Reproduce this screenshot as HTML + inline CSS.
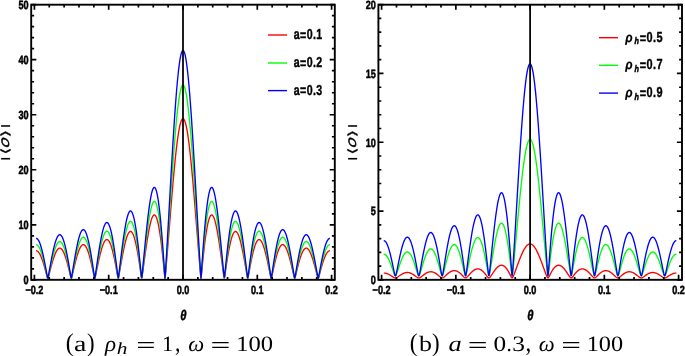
<!DOCTYPE html>
<html lang="en"><head><meta charset="utf-8"><title>Figure</title>
<style>
html,body{margin:0;padding:0;background:#fff;}
svg{display:block;will-change:transform;}
text{font-family:"Liberation Sans","DejaVu Sans",sans-serif;fill:#000;text-rendering:geometricPrecision;}
.tk{font-size:12px;font-weight:bold;stroke:#000;stroke-width:0.5px;}
.lg{font-size:14.5px;font-weight:bold;stroke:#000;stroke-width:0.4px;letter-spacing:0.5px;}
.th{font-size:14px;font-weight:bold;font-style:italic;stroke:#000;stroke-width:0.5px;}
.yl{font-size:13px;font-weight:bold;}
.it{font-style:italic;}
.cap{font-family:"Liberation Serif","DejaVu Serif",serif;font-size:22px;}
.ci{font-style:italic;}
</style></head><body>
<svg width="685" height="356" viewBox="0 0 685 356">
<rect width="685" height="356" fill="#fff"/>
<path d="M36.09 250.77 L36.46 250.78 L36.83 250.85 L37.19 251.00 L37.56 251.22 L37.93 251.51 L38.29 251.86 L38.66 252.28 L39.03 252.78 L39.40 253.33 L39.76 253.95 L40.13 254.64 L40.50 255.39 L40.87 256.20 L41.23 257.06 L41.60 257.99 L41.97 258.97 L42.33 260.00 L42.70 261.08 L43.07 262.21 L43.44 263.38 L43.80 264.60 L44.17 265.85 L44.54 267.14 L44.91 268.47 L45.27 269.82 L45.64 271.19 L46.01 272.59 L46.37 273.99 L46.74 275.39 L47.11 276.76 L47.48 277.99 L47.84 278.49 L48.21 277.67 L48.58 276.37 L48.95 274.96 L49.31 273.53 L49.68 272.09 L50.05 270.65 L50.41 269.23 L50.78 267.83 L51.15 266.45 L51.52 265.10 L51.88 263.78 L52.25 262.49 L52.62 261.24 L52.99 260.03 L53.35 258.86 L53.72 257.74 L54.09 256.67 L54.45 255.66 L54.82 254.69 L55.19 253.79 L55.56 252.94 L55.92 252.16 L56.29 251.44 L56.66 250.79 L57.03 250.21 L57.39 249.69 L57.76 249.25 L58.13 248.88 L58.49 248.58 L58.86 248.35 L59.23 248.20 L59.60 248.13 L59.96 248.13 L60.33 248.21 L60.70 248.37 L61.07 248.60 L61.43 248.91 L61.80 249.29 L62.17 249.75 L62.53 250.28 L62.90 250.88 L63.27 251.56 L63.64 252.30 L64.00 253.12 L64.37 254.00 L64.74 254.94 L65.11 255.95 L65.47 257.02 L65.84 258.15 L66.21 259.33 L66.57 260.56 L66.94 261.85 L67.31 263.18 L67.68 264.55 L68.04 265.96 L68.41 267.41 L68.78 268.90 L69.15 270.41 L69.51 271.94 L69.88 273.49 L70.25 275.04 L70.61 276.56 L70.98 277.93 L71.35 278.48 L71.72 277.49 L72.08 276.02 L72.45 274.46 L72.82 272.87 L73.19 271.28 L73.55 269.69 L73.92 268.12 L74.29 266.57 L74.65 265.04 L75.02 263.55 L75.39 262.08 L75.76 260.66 L76.12 259.27 L76.49 257.93 L76.86 256.63 L77.23 255.39 L77.59 254.20 L77.96 253.07 L78.33 251.99 L78.69 250.99 L79.06 250.04 L79.43 249.17 L79.80 248.36 L80.16 247.63 L80.53 246.98 L80.90 246.40 L81.27 245.90 L81.63 245.48 L82.00 245.14 L82.37 244.88 L82.73 244.70 L83.10 244.61 L83.47 244.61 L83.84 244.69 L84.20 244.85 L84.57 245.10 L84.94 245.43 L85.31 245.85 L85.67 246.35 L86.04 246.93 L86.41 247.60 L86.77 248.34 L87.14 249.16 L87.51 250.06 L87.88 251.04 L88.24 252.09 L88.61 253.21 L88.98 254.39 L89.35 255.65 L89.71 256.96 L90.08 258.34 L90.45 259.77 L90.81 261.26 L91.18 262.79 L91.55 264.37 L91.92 266.00 L92.28 267.66 L92.65 269.35 L93.02 271.07 L93.39 272.82 L93.75 274.56 L94.12 276.29 L94.49 277.87 L94.85 278.45 L95.22 277.22 L95.59 275.52 L95.96 273.74 L96.32 271.93 L96.69 270.13 L97.06 268.33 L97.43 266.55 L97.79 264.79 L98.16 263.06 L98.53 261.36 L98.89 259.70 L99.26 258.07 L99.63 256.49 L100.00 254.96 L100.36 253.49 L100.73 252.07 L101.10 250.71 L101.47 249.41 L101.83 248.18 L102.20 247.02 L102.57 245.94 L102.93 244.93 L103.30 244.00 L103.67 243.15 L104.04 242.39 L104.40 241.71 L104.77 241.13 L105.14 240.63 L105.51 240.23 L105.87 239.92 L106.24 239.70 L106.61 239.58 L106.97 239.56 L107.34 239.63 L107.71 239.80 L108.08 240.07 L108.44 240.43 L108.81 240.89 L109.18 241.45 L109.55 242.10 L109.91 242.85 L110.28 243.69 L110.65 244.62 L111.01 245.64 L111.38 246.75 L111.75 247.94 L112.12 249.22 L112.48 250.58 L112.85 252.01 L113.22 253.52 L113.59 255.10 L113.95 256.75 L114.32 258.46 L114.69 260.23 L115.05 262.06 L115.42 263.94 L115.79 265.86 L116.16 267.83 L116.52 269.83 L116.89 271.86 L117.26 273.91 L117.63 275.93 L117.99 277.81 L118.36 278.37 L118.73 276.73 L119.09 274.69 L119.46 272.58 L119.83 270.45 L120.20 268.32 L120.56 266.20 L120.93 264.10 L121.30 262.02 L121.67 259.97 L122.03 257.95 L122.40 255.98 L122.77 254.05 L123.13 252.16 L123.50 250.34 L123.87 248.57 L124.24 246.87 L124.60 245.23 L124.97 243.67 L125.34 242.19 L125.71 240.78 L126.07 239.47 L126.44 238.24 L126.81 237.10 L127.17 236.06 L127.54 235.12 L127.91 234.28 L128.28 233.54 L128.64 232.91 L129.01 232.39 L129.38 231.98 L129.75 231.69 L130.11 231.50 L130.48 231.43 L130.85 231.48 L131.21 231.65 L131.58 231.93 L131.95 232.34 L132.32 232.85 L132.68 233.49 L133.05 234.24 L133.42 235.11 L133.79 236.09 L134.15 237.19 L134.52 238.40 L134.89 239.71 L135.25 241.13 L135.62 242.66 L135.99 244.29 L136.36 246.02 L136.72 247.84 L137.09 249.75 L137.46 251.75 L137.83 253.84 L138.19 256.00 L138.56 258.24 L138.93 260.55 L139.29 262.92 L139.66 265.36 L140.03 267.84 L140.40 270.37 L140.76 272.92 L141.13 275.48 L141.50 277.85 L141.87 278.02 L142.23 275.66 L142.60 273.02 L142.97 270.32 L143.33 267.60 L143.70 264.88 L144.07 262.17 L144.44 259.47 L144.80 256.79 L145.17 254.14 L145.54 251.53 L145.91 248.95 L146.27 246.43 L146.64 243.96 L147.01 241.56 L147.37 239.22 L147.74 236.95 L148.11 234.77 L148.48 232.67 L148.84 230.66 L149.21 228.75 L149.58 226.94 L149.95 225.24 L150.31 223.65 L150.68 222.18 L151.05 220.84 L151.41 219.62 L151.78 218.53 L152.15 217.58 L152.52 216.76 L152.88 216.09 L153.25 215.57 L153.62 215.20 L153.99 214.97 L154.35 214.90 L154.72 214.99 L155.09 215.24 L155.45 215.64 L155.82 216.21 L156.19 216.94 L156.56 217.83 L156.92 218.88 L157.29 220.10 L157.66 221.48 L158.03 223.02 L158.39 224.72 L158.76 226.58 L159.13 228.60 L159.49 230.77 L159.86 233.10 L160.23 235.57 L160.60 238.20 L160.96 240.96 L161.33 243.87 L161.70 246.92 L162.07 250.10 L162.43 253.40 L162.80 256.83 L163.17 260.37 L163.53 264.03 L163.90 267.78 L164.27 271.63 L164.64 275.50 L165.00 278.51 L165.37 275.50 L165.74 271.37 L166.11 267.11 L166.47 262.77 L166.84 258.37 L167.21 253.91 L167.57 249.41 L167.94 244.88 L168.31 240.31 L168.68 235.73 L169.04 231.13 L169.41 226.53 L169.78 221.94 L170.15 217.35 L170.51 212.79 L170.88 208.25 L171.25 203.75 L171.61 199.29 L171.98 194.88 L172.35 190.53 L172.72 186.25 L173.08 182.04 L173.45 177.91 L173.82 173.87 L174.19 169.93 L174.55 166.08 L174.92 162.35 L175.29 158.73 L175.65 155.24 L176.02 151.87 L176.39 148.64 L176.76 145.54 L177.12 142.60 L177.49 139.80 L177.86 137.16 L178.23 134.68 L178.59 132.37 L178.96 130.23 L179.33 128.26 L179.69 126.46 L180.06 124.85 L180.43 123.42 L180.80 122.17 L181.16 121.11 L181.53 120.25 L181.90 119.57 L182.27 119.08 L182.63 118.79 L183.00 118.70 L183.37 118.79 L183.73 119.08 L184.10 119.57 L184.47 120.25 L184.84 121.11 L185.20 122.17 L185.57 123.42 L185.94 124.85 L186.31 126.46 L186.67 128.26 L187.04 130.23 L187.41 132.37 L187.77 134.68 L188.14 137.16 L188.51 139.80 L188.88 142.60 L189.24 145.54 L189.61 148.64 L189.98 151.87 L190.35 155.24 L190.71 158.73 L191.08 162.35 L191.45 166.08 L191.81 169.93 L192.18 173.87 L192.55 177.91 L192.92 182.04 L193.28 186.25 L193.65 190.53 L194.02 194.88 L194.39 199.29 L194.75 203.75 L195.12 208.25 L195.49 212.79 L195.85 217.35 L196.22 221.94 L196.59 226.53 L196.96 231.13 L197.32 235.73 L197.69 240.31 L198.06 244.88 L198.43 249.41 L198.79 253.91 L199.16 258.37 L199.53 262.77 L199.89 267.11 L200.26 271.37 L200.63 275.50 L201.00 278.51 L201.36 275.50 L201.73 271.63 L202.10 267.78 L202.47 264.03 L202.83 260.37 L203.20 256.83 L203.57 253.40 L203.93 250.10 L204.30 246.92 L204.67 243.87 L205.04 240.96 L205.40 238.20 L205.77 235.57 L206.14 233.10 L206.51 230.77 L206.87 228.60 L207.24 226.58 L207.61 224.72 L207.97 223.02 L208.34 221.48 L208.71 220.10 L209.08 218.88 L209.44 217.83 L209.81 216.94 L210.18 216.21 L210.55 215.64 L210.91 215.24 L211.28 214.99 L211.65 214.90 L212.01 214.97 L212.38 215.20 L212.75 215.57 L213.12 216.09 L213.48 216.76 L213.85 217.58 L214.22 218.53 L214.59 219.62 L214.95 220.84 L215.32 222.18 L215.69 223.65 L216.05 225.24 L216.42 226.94 L216.79 228.75 L217.16 230.66 L217.52 232.67 L217.89 234.77 L218.26 236.95 L218.63 239.22 L218.99 241.56 L219.36 243.96 L219.73 246.43 L220.09 248.95 L220.46 251.53 L220.83 254.14 L221.20 256.79 L221.56 259.47 L221.93 262.17 L222.30 264.88 L222.67 267.60 L223.03 270.32 L223.40 273.02 L223.77 275.66 L224.13 278.02 L224.50 277.85 L224.87 275.48 L225.24 272.92 L225.60 270.37 L225.97 267.84 L226.34 265.36 L226.71 262.92 L227.07 260.55 L227.44 258.24 L227.81 256.00 L228.17 253.84 L228.54 251.75 L228.91 249.75 L229.28 247.84 L229.64 246.02 L230.01 244.29 L230.38 242.66 L230.75 241.13 L231.11 239.71 L231.48 238.40 L231.85 237.19 L232.21 236.09 L232.58 235.11 L232.95 234.24 L233.32 233.49 L233.68 232.85 L234.05 232.34 L234.42 231.93 L234.79 231.65 L235.15 231.48 L235.52 231.43 L235.89 231.50 L236.25 231.69 L236.62 231.98 L236.99 232.39 L237.36 232.91 L237.72 233.54 L238.09 234.28 L238.46 235.12 L238.83 236.06 L239.19 237.10 L239.56 238.24 L239.93 239.47 L240.29 240.78 L240.66 242.19 L241.03 243.67 L241.40 245.23 L241.76 246.87 L242.13 248.57 L242.50 250.34 L242.87 252.16 L243.23 254.05 L243.60 255.98 L243.97 257.95 L244.33 259.97 L244.70 262.02 L245.07 264.10 L245.44 266.20 L245.80 268.32 L246.17 270.45 L246.54 272.58 L246.91 274.69 L247.27 276.73 L247.64 278.37 L248.01 277.81 L248.37 275.93 L248.74 273.91 L249.11 271.86 L249.48 269.83 L249.84 267.83 L250.21 265.86 L250.58 263.94 L250.95 262.06 L251.31 260.23 L251.68 258.46 L252.05 256.75 L252.41 255.10 L252.78 253.52 L253.15 252.01 L253.52 250.58 L253.88 249.22 L254.25 247.94 L254.62 246.75 L254.99 245.64 L255.35 244.62 L255.72 243.69 L256.09 242.85 L256.45 242.10 L256.82 241.45 L257.19 240.89 L257.56 240.43 L257.92 240.07 L258.29 239.80 L258.66 239.63 L259.03 239.56 L259.39 239.58 L259.76 239.70 L260.13 239.92 L260.49 240.23 L260.86 240.63 L261.23 241.13 L261.60 241.71 L261.96 242.39 L262.33 243.15 L262.70 244.00 L263.07 244.93 L263.43 245.94 L263.80 247.02 L264.17 248.18 L264.53 249.41 L264.90 250.71 L265.27 252.07 L265.64 253.49 L266.00 254.96 L266.37 256.49 L266.74 258.07 L267.11 259.70 L267.47 261.36 L267.84 263.06 L268.21 264.79 L268.57 266.55 L268.94 268.33 L269.31 270.13 L269.68 271.93 L270.04 273.74 L270.41 275.52 L270.78 277.22 L271.15 278.45 L271.51 277.87 L271.88 276.29 L272.25 274.56 L272.61 272.82 L272.98 271.07 L273.35 269.35 L273.72 267.66 L274.08 266.00 L274.45 264.37 L274.82 262.79 L275.19 261.26 L275.55 259.77 L275.92 258.34 L276.29 256.96 L276.65 255.65 L277.02 254.39 L277.39 253.21 L277.76 252.09 L278.12 251.04 L278.49 250.06 L278.86 249.16 L279.23 248.34 L279.59 247.60 L279.96 246.93 L280.33 246.35 L280.69 245.85 L281.06 245.43 L281.43 245.10 L281.80 244.85 L282.16 244.69 L282.53 244.61 L282.90 244.61 L283.27 244.70 L283.63 244.88 L284.00 245.14 L284.37 245.48 L284.73 245.90 L285.10 246.40 L285.47 246.98 L285.84 247.63 L286.20 248.36 L286.57 249.17 L286.94 250.04 L287.31 250.99 L287.67 251.99 L288.04 253.07 L288.41 254.20 L288.77 255.39 L289.14 256.63 L289.51 257.93 L289.88 259.27 L290.24 260.66 L290.61 262.08 L290.98 263.55 L291.35 265.04 L291.71 266.57 L292.08 268.12 L292.45 269.69 L292.81 271.28 L293.18 272.87 L293.55 274.46 L293.92 276.02 L294.28 277.49 L294.65 278.48 L295.02 277.93 L295.39 276.56 L295.75 275.04 L296.12 273.49 L296.49 271.94 L296.85 270.41 L297.22 268.90 L297.59 267.41 L297.96 265.96 L298.32 264.55 L298.69 263.18 L299.06 261.85 L299.43 260.56 L299.79 259.33 L300.16 258.15 L300.53 257.02 L300.89 255.95 L301.26 254.94 L301.63 254.00 L302.00 253.12 L302.36 252.30 L302.73 251.56 L303.10 250.88 L303.47 250.28 L303.83 249.75 L304.20 249.29 L304.57 248.91 L304.93 248.60 L305.30 248.37 L305.67 248.21 L306.04 248.13 L306.40 248.13 L306.77 248.20 L307.14 248.35 L307.51 248.58 L307.87 248.88 L308.24 249.25 L308.61 249.69 L308.97 250.21 L309.34 250.79 L309.71 251.44 L310.08 252.16 L310.44 252.94 L310.81 253.79 L311.18 254.69 L311.55 255.66 L311.91 256.67 L312.28 257.74 L312.65 258.86 L313.01 260.03 L313.38 261.24 L313.75 262.49 L314.12 263.78 L314.48 265.10 L314.85 266.45 L315.22 267.83 L315.59 269.23 L315.95 270.65 L316.32 272.09 L316.69 273.53 L317.05 274.96 L317.42 276.37 L317.79 277.67 L318.16 278.49 L318.52 277.99 L318.89 276.76 L319.26 275.39 L319.63 273.99 L319.99 272.59 L320.36 271.19 L320.73 269.82 L321.09 268.47 L321.46 267.14 L321.83 265.85 L322.20 264.60 L322.56 263.38 L322.93 262.21 L323.30 261.08 L323.67 260.00 L324.03 258.97 L324.40 257.99 L324.77 257.06 L325.13 256.20 L325.50 255.39 L325.87 254.64 L326.24 253.95 L326.60 253.33 L326.97 252.78 L327.34 252.28 L327.71 251.86 L328.07 251.51 L328.44 251.22 L328.81 251.00 L329.17 250.85 L329.54 250.78 L329.91 250.77" fill="none" stroke="#ff0000" stroke-width="1.35" stroke-linejoin="round" stroke-linecap="butt"/>
<path d="M36.09 244.72 L36.46 244.73 L36.83 244.82 L37.19 245.00 L37.56 245.26 L37.93 245.61 L38.29 246.04 L38.66 246.55 L39.03 247.15 L39.40 247.82 L39.76 248.57 L40.13 249.40 L40.50 250.30 L40.87 251.28 L41.23 252.33 L41.60 253.45 L41.97 254.63 L42.33 255.87 L42.70 257.18 L43.07 258.55 L43.44 259.96 L43.80 261.43 L44.17 262.95 L44.54 264.51 L44.91 266.10 L45.27 267.74 L45.64 269.40 L46.01 271.08 L46.37 272.78 L46.74 274.47 L47.11 276.13 L47.48 277.61 L47.84 278.22 L48.21 277.23 L48.58 275.65 L48.95 273.95 L49.31 272.22 L49.68 270.48 L50.05 268.75 L50.41 267.03 L50.78 265.34 L51.15 263.67 L51.52 262.04 L51.88 260.44 L52.25 258.88 L52.62 257.37 L52.99 255.91 L53.35 254.50 L53.72 253.15 L54.09 251.86 L54.45 250.63 L54.82 249.46 L55.19 248.37 L55.56 247.35 L55.92 246.40 L56.29 245.54 L56.66 244.75 L57.03 244.04 L57.39 243.42 L57.76 242.88 L58.13 242.43 L58.49 242.07 L58.86 241.80 L59.23 241.62 L59.60 241.53 L59.96 241.54 L60.33 241.63 L60.70 241.82 L61.07 242.10 L61.43 242.47 L61.80 242.93 L62.17 243.49 L62.53 244.13 L62.90 244.86 L63.27 245.67 L63.64 246.58 L64.00 247.56 L64.37 248.62 L64.74 249.76 L65.11 250.98 L65.47 252.27 L65.84 253.63 L66.21 255.06 L66.57 256.55 L66.94 258.10 L67.31 259.71 L67.68 261.37 L68.04 263.08 L68.41 264.83 L68.78 266.63 L69.15 268.45 L69.51 270.30 L69.88 272.17 L70.25 274.04 L70.61 275.88 L70.98 277.54 L71.35 278.21 L71.72 277.01 L72.08 275.24 L72.45 273.35 L72.82 271.42 L73.19 269.50 L73.55 267.58 L73.92 265.69 L74.29 263.81 L74.65 261.97 L75.02 260.16 L75.39 258.39 L75.76 256.67 L76.12 254.99 L76.49 253.37 L76.86 251.80 L77.23 250.30 L77.59 248.86 L77.96 247.50 L78.33 246.20 L78.69 244.98 L79.06 243.84 L79.43 242.79 L79.80 241.82 L80.16 240.93 L80.53 240.14 L80.90 239.44 L81.27 238.83 L81.63 238.32 L82.00 237.91 L82.37 237.60 L82.73 237.39 L83.10 237.28 L83.47 237.27 L83.84 237.37 L84.20 237.57 L84.57 237.87 L84.94 238.27 L85.31 238.77 L85.67 239.38 L86.04 240.08 L86.41 240.89 L86.77 241.79 L87.14 242.78 L87.51 243.87 L87.88 245.05 L88.24 246.31 L88.61 247.67 L88.98 249.10 L89.35 250.61 L89.71 252.20 L90.08 253.87 L90.45 255.60 L90.81 257.39 L91.18 259.25 L91.55 261.16 L91.92 263.12 L92.28 265.13 L92.65 267.18 L93.02 269.26 L93.39 271.36 L93.75 273.47 L94.12 275.56 L94.49 277.46 L94.85 278.17 L95.22 276.68 L95.59 274.63 L95.96 272.47 L96.32 270.29 L96.69 268.11 L97.06 265.94 L97.43 263.79 L97.79 261.66 L98.16 259.57 L98.53 257.52 L98.89 255.51 L99.26 253.55 L99.63 251.64 L100.00 249.79 L100.36 248.00 L100.73 246.29 L101.10 244.64 L101.47 243.08 L101.83 241.59 L102.20 240.19 L102.57 238.88 L102.93 237.66 L103.30 236.54 L103.67 235.52 L104.04 234.60 L104.40 233.78 L104.77 233.07 L105.14 232.47 L105.51 231.98 L105.87 231.61 L106.24 231.35 L106.61 231.20 L106.97 231.17 L107.34 231.26 L107.71 231.46 L108.08 231.79 L108.44 232.23 L108.81 232.79 L109.18 233.46 L109.55 234.25 L109.91 235.15 L110.28 236.17 L110.65 237.29 L111.01 238.53 L111.38 239.87 L111.75 241.31 L112.12 242.85 L112.48 244.49 L112.85 246.22 L113.22 248.05 L113.59 249.96 L113.95 251.95 L114.32 254.01 L114.69 256.15 L115.05 258.36 L115.42 260.63 L115.79 262.96 L116.16 265.34 L116.52 267.76 L116.89 270.21 L117.26 272.68 L117.63 275.13 L117.99 277.40 L118.36 278.07 L118.73 276.09 L119.09 273.63 L119.46 271.08 L119.83 268.50 L120.20 265.93 L120.56 263.37 L120.93 260.83 L121.30 258.32 L121.67 255.84 L122.03 253.40 L122.40 251.01 L122.77 248.68 L123.13 246.41 L123.50 244.20 L123.87 242.06 L124.24 240.01 L124.60 238.03 L124.97 236.15 L125.34 234.35 L125.71 232.66 L126.07 231.06 L126.44 229.58 L126.81 228.21 L127.17 226.95 L127.54 225.81 L127.91 224.79 L128.28 223.90 L128.64 223.14 L129.01 222.51 L129.38 222.02 L129.75 221.66 L130.11 221.44 L130.48 221.36 L130.85 221.42 L131.21 221.62 L131.58 221.96 L131.95 222.45 L132.32 223.07 L132.68 223.84 L133.05 224.75 L133.42 225.80 L133.79 226.99 L134.15 228.31 L134.52 229.77 L134.89 231.36 L135.25 233.08 L135.62 234.92 L135.99 236.89 L136.36 238.98 L136.72 241.18 L137.09 243.49 L137.46 245.91 L137.83 248.43 L138.19 251.05 L138.56 253.75 L138.93 256.54 L139.29 259.41 L139.66 262.35 L140.03 265.35 L140.40 268.40 L140.76 271.49 L141.13 274.58 L141.50 277.44 L141.87 277.65 L142.23 274.80 L142.60 271.60 L142.97 268.34 L143.33 265.06 L143.70 261.77 L144.07 258.49 L144.44 255.23 L144.80 251.99 L145.17 248.79 L145.54 245.63 L145.91 242.53 L146.27 239.48 L146.64 236.50 L147.01 233.59 L147.37 230.76 L147.74 228.02 L148.11 225.38 L148.48 222.85 L148.84 220.42 L149.21 218.11 L149.58 215.93 L149.95 213.87 L150.31 211.95 L150.68 210.18 L151.05 208.55 L151.41 207.08 L151.78 205.76 L152.15 204.61 L152.52 203.63 L152.88 202.82 L153.25 202.19 L153.62 201.74 L153.99 201.47 L154.35 201.38 L154.72 201.49 L155.09 201.79 L155.45 202.28 L155.82 202.96 L156.19 203.84 L156.56 204.92 L156.92 206.19 L157.29 207.66 L157.66 209.33 L158.03 211.19 L158.39 213.24 L158.76 215.49 L159.13 217.93 L159.49 220.56 L159.86 223.37 L160.23 226.36 L160.60 229.53 L160.96 232.87 L161.33 236.39 L161.70 240.07 L162.07 243.91 L162.43 247.90 L162.80 252.04 L163.17 256.33 L163.53 260.74 L163.90 265.28 L164.27 269.92 L164.64 274.61 L165.00 278.24 L165.37 274.60 L165.74 269.61 L166.11 264.47 L166.47 259.22 L166.84 253.90 L167.21 248.52 L167.57 243.08 L167.94 237.60 L168.31 232.09 L168.68 226.55 L169.04 220.99 L169.41 215.44 L169.78 209.88 L170.15 204.34 L170.51 198.83 L170.88 193.35 L171.25 187.91 L171.61 182.52 L171.98 177.19 L172.35 171.94 L172.72 166.76 L173.08 161.67 L173.45 156.68 L173.82 151.80 L174.19 147.04 L174.55 142.39 L174.92 137.88 L175.29 133.51 L175.65 129.29 L176.02 125.22 L176.39 121.31 L176.76 117.57 L177.12 114.01 L177.49 110.64 L177.86 107.45 L178.23 104.45 L178.59 101.66 L178.96 99.06 L179.33 96.68 L179.69 94.52 L180.06 92.57 L180.43 90.84 L180.80 89.33 L181.16 88.05 L181.53 87.00 L181.90 86.19 L182.27 85.60 L182.63 85.25 L183.00 85.13 L183.37 85.25 L183.73 85.60 L184.10 86.19 L184.47 87.00 L184.84 88.05 L185.20 89.33 L185.57 90.84 L185.94 92.57 L186.31 94.52 L186.67 96.68 L187.04 99.06 L187.41 101.66 L187.77 104.45 L188.14 107.45 L188.51 110.64 L188.88 114.01 L189.24 117.57 L189.61 121.31 L189.98 125.22 L190.35 129.29 L190.71 133.51 L191.08 137.88 L191.45 142.39 L191.81 147.04 L192.18 151.80 L192.55 156.68 L192.92 161.67 L193.28 166.76 L193.65 171.94 L194.02 177.19 L194.39 182.52 L194.75 187.91 L195.12 193.35 L195.49 198.83 L195.85 204.34 L196.22 209.88 L196.59 215.44 L196.96 220.99 L197.32 226.55 L197.69 232.09 L198.06 237.60 L198.43 243.08 L198.79 248.52 L199.16 253.90 L199.53 259.22 L199.89 264.47 L200.26 269.61 L200.63 274.60 L201.00 278.24 L201.36 274.61 L201.73 269.92 L202.10 265.28 L202.47 260.74 L202.83 256.33 L203.20 252.04 L203.57 247.90 L203.93 243.91 L204.30 240.07 L204.67 236.39 L205.04 232.87 L205.40 229.53 L205.77 226.36 L206.14 223.37 L206.51 220.56 L206.87 217.93 L207.24 215.49 L207.61 213.24 L207.97 211.19 L208.34 209.33 L208.71 207.66 L209.08 206.19 L209.44 204.92 L209.81 203.84 L210.18 202.96 L210.55 202.28 L210.91 201.79 L211.28 201.49 L211.65 201.38 L212.01 201.47 L212.38 201.74 L212.75 202.19 L213.12 202.82 L213.48 203.63 L213.85 204.61 L214.22 205.76 L214.59 207.08 L214.95 208.55 L215.32 210.18 L215.69 211.95 L216.05 213.87 L216.42 215.93 L216.79 218.11 L217.16 220.42 L217.52 222.85 L217.89 225.38 L218.26 228.02 L218.63 230.76 L218.99 233.59 L219.36 236.50 L219.73 239.48 L220.09 242.53 L220.46 245.63 L220.83 248.79 L221.20 251.99 L221.56 255.23 L221.93 258.49 L222.30 261.77 L222.67 265.06 L223.03 268.34 L223.40 271.60 L223.77 274.80 L224.13 277.65 L224.50 277.44 L224.87 274.58 L225.24 271.49 L225.60 268.40 L225.97 265.35 L226.34 262.35 L226.71 259.41 L227.07 256.54 L227.44 253.75 L227.81 251.05 L228.17 248.43 L228.54 245.91 L228.91 243.49 L229.28 241.18 L229.64 238.98 L230.01 236.89 L230.38 234.92 L230.75 233.08 L231.11 231.36 L231.48 229.77 L231.85 228.31 L232.21 226.99 L232.58 225.80 L232.95 224.75 L233.32 223.84 L233.68 223.07 L234.05 222.45 L234.42 221.96 L234.79 221.62 L235.15 221.42 L235.52 221.36 L235.89 221.44 L236.25 221.66 L236.62 222.02 L236.99 222.51 L237.36 223.14 L237.72 223.90 L238.09 224.79 L238.46 225.81 L238.83 226.95 L239.19 228.21 L239.56 229.58 L239.93 231.06 L240.29 232.66 L240.66 234.35 L241.03 236.15 L241.40 238.03 L241.76 240.01 L242.13 242.06 L242.50 244.20 L242.87 246.41 L243.23 248.68 L243.60 251.01 L243.97 253.40 L244.33 255.84 L244.70 258.32 L245.07 260.83 L245.44 263.37 L245.80 265.93 L246.17 268.50 L246.54 271.08 L246.91 273.63 L247.27 276.09 L247.64 278.07 L248.01 277.40 L248.37 275.13 L248.74 272.68 L249.11 270.21 L249.48 267.76 L249.84 265.34 L250.21 262.96 L250.58 260.63 L250.95 258.36 L251.31 256.15 L251.68 254.01 L252.05 251.95 L252.41 249.96 L252.78 248.05 L253.15 246.22 L253.52 244.49 L253.88 242.85 L254.25 241.31 L254.62 239.87 L254.99 238.53 L255.35 237.29 L255.72 236.17 L256.09 235.15 L256.45 234.25 L256.82 233.46 L257.19 232.79 L257.56 232.23 L257.92 231.79 L258.29 231.46 L258.66 231.26 L259.03 231.17 L259.39 231.20 L259.76 231.35 L260.13 231.61 L260.49 231.98 L260.86 232.47 L261.23 233.07 L261.60 233.78 L261.96 234.60 L262.33 235.52 L262.70 236.54 L263.07 237.66 L263.43 238.88 L263.80 240.19 L264.17 241.59 L264.53 243.08 L264.90 244.64 L265.27 246.29 L265.64 248.00 L266.00 249.79 L266.37 251.64 L266.74 253.55 L267.11 255.51 L267.47 257.52 L267.84 259.57 L268.21 261.66 L268.57 263.79 L268.94 265.94 L269.31 268.11 L269.68 270.29 L270.04 272.47 L270.41 274.63 L270.78 276.68 L271.15 278.17 L271.51 277.46 L271.88 275.56 L272.25 273.47 L272.61 271.36 L272.98 269.26 L273.35 267.18 L273.72 265.13 L274.08 263.12 L274.45 261.16 L274.82 259.25 L275.19 257.39 L275.55 255.60 L275.92 253.87 L276.29 252.20 L276.65 250.61 L277.02 249.10 L277.39 247.67 L277.76 246.31 L278.12 245.05 L278.49 243.87 L278.86 242.78 L279.23 241.79 L279.59 240.89 L279.96 240.08 L280.33 239.38 L280.69 238.77 L281.06 238.27 L281.43 237.87 L281.80 237.57 L282.16 237.37 L282.53 237.27 L282.90 237.28 L283.27 237.39 L283.63 237.60 L284.00 237.91 L284.37 238.32 L284.73 238.83 L285.10 239.44 L285.47 240.14 L285.84 240.93 L286.20 241.82 L286.57 242.79 L286.94 243.84 L287.31 244.98 L287.67 246.20 L288.04 247.50 L288.41 248.86 L288.77 250.30 L289.14 251.80 L289.51 253.37 L289.88 254.99 L290.24 256.67 L290.61 258.39 L290.98 260.16 L291.35 261.97 L291.71 263.81 L292.08 265.69 L292.45 267.58 L292.81 269.50 L293.18 271.42 L293.55 273.35 L293.92 275.24 L294.28 277.01 L294.65 278.21 L295.02 277.54 L295.39 275.88 L295.75 274.04 L296.12 272.17 L296.49 270.30 L296.85 268.45 L297.22 266.63 L297.59 264.83 L297.96 263.08 L298.32 261.37 L298.69 259.71 L299.06 258.10 L299.43 256.55 L299.79 255.06 L300.16 253.63 L300.53 252.27 L300.89 250.98 L301.26 249.76 L301.63 248.62 L302.00 247.56 L302.36 246.58 L302.73 245.67 L303.10 244.86 L303.47 244.13 L303.83 243.49 L304.20 242.93 L304.57 242.47 L304.93 242.10 L305.30 241.82 L305.67 241.63 L306.04 241.54 L306.40 241.53 L306.77 241.62 L307.14 241.80 L307.51 242.07 L307.87 242.43 L308.24 242.88 L308.61 243.42 L308.97 244.04 L309.34 244.75 L309.71 245.54 L310.08 246.40 L310.44 247.35 L310.81 248.37 L311.18 249.46 L311.55 250.63 L311.91 251.86 L312.28 253.15 L312.65 254.50 L313.01 255.91 L313.38 257.37 L313.75 258.88 L314.12 260.44 L314.48 262.04 L314.85 263.67 L315.22 265.34 L315.59 267.03 L315.95 268.75 L316.32 270.48 L316.69 272.22 L317.05 273.95 L317.42 275.65 L317.79 277.23 L318.16 278.22 L318.52 277.61 L318.89 276.13 L319.26 274.47 L319.63 272.78 L319.99 271.08 L320.36 269.40 L320.73 267.74 L321.09 266.10 L321.46 264.51 L321.83 262.95 L322.20 261.43 L322.56 259.96 L322.93 258.55 L323.30 257.18 L323.67 255.87 L324.03 254.63 L324.40 253.45 L324.77 252.33 L325.13 251.28 L325.50 250.30 L325.87 249.40 L326.24 248.57 L326.60 247.82 L326.97 247.15 L327.34 246.55 L327.71 246.04 L328.07 245.61 L328.44 245.26 L328.81 245.00 L329.17 244.82 L329.54 244.73 L329.91 244.72" fill="none" stroke="#00ff00" stroke-width="1.35" stroke-linejoin="round" stroke-linecap="butt"/>
<path d="M36.09 238.47 L36.46 238.49 L36.83 238.60 L37.19 238.81 L37.56 239.11 L37.93 239.52 L38.29 240.03 L38.66 240.63 L39.03 241.33 L39.40 242.12 L39.76 243.01 L40.13 243.99 L40.50 245.05 L40.87 246.20 L41.23 247.44 L41.60 248.75 L41.97 250.15 L42.33 251.61 L42.70 253.15 L43.07 254.76 L43.44 256.43 L43.80 258.16 L44.17 259.95 L44.54 261.78 L44.91 263.67 L45.27 265.59 L45.64 267.55 L46.01 269.53 L46.37 271.53 L46.74 273.53 L47.11 275.48 L47.48 277.22 L47.84 277.94 L48.21 276.77 L48.58 274.91 L48.95 272.91 L49.31 270.87 L49.68 268.82 L50.05 266.78 L50.41 264.76 L50.78 262.76 L51.15 260.80 L51.52 258.88 L51.88 256.99 L52.25 255.16 L52.62 253.38 L52.99 251.66 L53.35 250.00 L53.72 248.40 L54.09 246.88 L54.45 245.43 L54.82 244.06 L55.19 242.77 L55.56 241.57 L55.92 240.46 L56.29 239.43 L56.66 238.51 L57.03 237.67 L57.39 236.94 L57.76 236.31 L58.13 235.78 L58.49 235.36 L58.86 235.04 L59.23 234.82 L59.60 234.72 L59.96 234.72 L60.33 234.84 L60.70 235.06 L61.07 235.39 L61.43 235.83 L61.80 236.37 L62.17 237.02 L62.53 237.78 L62.90 238.64 L63.27 239.60 L63.64 240.66 L64.00 241.82 L64.37 243.07 L64.74 244.42 L65.11 245.85 L65.47 247.37 L65.84 248.97 L66.21 250.66 L66.57 252.41 L66.94 254.24 L67.31 256.14 L67.68 258.09 L68.04 260.10 L68.41 262.17 L68.78 264.28 L69.15 266.43 L69.51 268.61 L69.88 270.81 L70.25 273.02 L70.61 275.18 L70.98 277.14 L71.35 277.92 L71.72 276.52 L72.08 274.42 L72.45 272.20 L72.82 269.93 L73.19 267.67 L73.55 265.41 L73.92 263.17 L74.29 260.97 L74.65 258.79 L75.02 256.66 L75.39 254.58 L75.76 252.55 L76.12 250.57 L76.49 248.66 L76.86 246.82 L77.23 245.05 L77.59 243.36 L77.96 241.75 L78.33 240.22 L78.69 238.78 L79.06 237.44 L79.43 236.20 L79.80 235.05 L80.16 234.01 L80.53 233.08 L80.90 232.25 L81.27 231.54 L81.63 230.94 L82.00 230.46 L82.37 230.09 L82.73 229.84 L83.10 229.71 L83.47 229.70 L83.84 229.81 L84.20 230.05 L84.57 230.40 L84.94 230.88 L85.31 231.47 L85.67 232.18 L86.04 233.01 L86.41 233.96 L86.77 235.02 L87.14 236.19 L87.51 237.47 L87.88 238.86 L88.24 240.35 L88.61 241.94 L88.98 243.63 L89.35 245.42 L89.71 247.29 L90.08 249.25 L90.45 251.29 L90.81 253.40 L91.18 255.59 L91.55 257.84 L91.92 260.15 L92.28 262.52 L92.65 264.93 L93.02 267.38 L93.39 269.86 L93.75 272.35 L94.12 274.80 L94.49 277.05 L94.85 277.88 L95.22 276.12 L95.59 273.71 L95.96 271.17 L96.32 268.60 L96.69 266.03 L97.06 263.47 L97.43 260.94 L97.79 258.44 L98.16 255.97 L98.53 253.55 L98.89 251.18 L99.26 248.87 L99.63 246.62 L100.00 244.45 L100.36 242.34 L100.73 240.32 L101.10 238.38 L101.47 236.54 L101.83 234.79 L102.20 233.14 L102.57 231.60 L102.93 230.16 L103.30 228.84 L103.67 227.63 L104.04 226.55 L104.40 225.59 L104.77 224.75 L105.14 224.04 L105.51 223.47 L105.87 223.03 L106.24 222.72 L106.61 222.55 L106.97 222.51 L107.34 222.62 L107.71 222.86 L108.08 223.24 L108.44 223.76 L108.81 224.42 L109.18 225.21 L109.55 226.14 L109.91 227.20 L110.28 228.40 L110.65 229.72 L111.01 231.18 L111.38 232.76 L111.75 234.45 L112.12 236.27 L112.48 238.20 L112.85 240.25 L113.22 242.39 L113.59 244.64 L113.95 246.99 L114.32 249.42 L114.69 251.94 L115.05 254.55 L115.42 257.22 L115.79 259.96 L116.16 262.76 L116.52 265.61 L116.89 268.50 L117.26 271.41 L117.63 274.30 L117.99 276.97 L118.36 277.76 L118.73 275.43 L119.09 272.53 L119.46 269.52 L119.83 266.49 L120.20 263.46 L120.56 260.44 L120.93 257.45 L121.30 254.49 L121.67 251.57 L122.03 248.70 L122.40 245.89 L122.77 243.14 L123.13 240.46 L123.50 237.86 L123.87 235.34 L124.24 232.92 L124.60 230.59 L124.97 228.37 L125.34 226.26 L125.71 224.26 L126.07 222.39 L126.44 220.64 L126.81 219.02 L127.17 217.54 L127.54 216.20 L127.91 215.00 L128.28 213.95 L128.64 213.06 L129.01 212.31 L129.38 211.73 L129.75 211.31 L130.11 211.05 L130.48 210.95 L130.85 211.02 L131.21 211.26 L131.58 211.66 L131.95 212.23 L132.32 212.97 L132.68 213.88 L133.05 214.95 L133.42 216.19 L133.79 217.58 L134.15 219.14 L134.52 220.86 L134.89 222.73 L135.25 224.76 L135.62 226.93 L135.99 229.25 L136.36 231.71 L136.72 234.30 L137.09 237.03 L137.46 239.88 L137.83 242.85 L138.19 245.93 L138.56 249.11 L138.93 252.40 L139.29 255.78 L139.66 259.24 L140.03 262.77 L140.40 266.37 L140.76 270.01 L141.13 273.64 L141.50 277.02 L141.87 277.27 L142.23 273.91 L142.60 270.14 L142.97 266.30 L143.33 262.43 L143.70 258.56 L144.07 254.70 L144.44 250.85 L144.80 247.04 L145.17 243.27 L145.54 239.55 L145.91 235.89 L146.27 232.30 L146.64 228.79 L147.01 225.36 L147.37 222.03 L147.74 218.81 L148.11 215.69 L148.48 212.71 L148.84 209.85 L149.21 207.13 L149.58 204.55 L149.95 202.13 L150.31 199.87 L150.68 197.78 L151.05 195.86 L151.41 194.13 L151.78 192.58 L152.15 191.23 L152.52 190.07 L152.88 189.11 L153.25 188.37 L153.62 187.84 L153.99 187.52 L154.35 187.42 L154.72 187.54 L155.09 187.90 L155.45 188.47 L155.82 189.28 L156.19 190.32 L156.56 191.58 L156.92 193.09 L157.29 194.82 L157.66 196.78 L158.03 198.97 L158.39 201.39 L158.76 204.04 L159.13 206.91 L159.49 210.01 L159.86 213.32 L160.23 216.84 L160.60 220.58 L160.96 224.52 L161.33 228.66 L161.70 232.99 L162.07 237.52 L162.43 242.22 L162.80 247.10 L163.17 252.15 L163.53 257.35 L163.90 262.70 L164.27 268.17 L164.64 273.68 L165.00 277.96 L165.37 273.67 L165.74 267.80 L166.11 261.74 L166.47 255.56 L166.84 249.29 L167.21 242.95 L167.57 236.54 L167.94 230.09 L168.31 223.59 L168.68 217.07 L169.04 210.52 L169.41 203.98 L169.78 197.43 L170.15 190.91 L170.51 184.41 L170.88 177.95 L171.25 171.54 L171.61 165.20 L171.98 158.92 L172.35 152.73 L172.72 146.63 L173.08 140.64 L173.45 134.76 L173.82 129.01 L174.19 123.39 L174.55 117.92 L174.92 112.61 L175.29 107.46 L175.65 102.48 L176.02 97.69 L176.39 93.09 L176.76 88.69 L177.12 84.49 L177.49 80.51 L177.86 76.76 L178.23 73.23 L178.59 69.93 L178.96 66.88 L179.33 64.08 L179.69 61.52 L180.06 59.23 L180.43 57.19 L180.80 55.42 L181.16 53.91 L181.53 52.67 L181.90 51.71 L182.27 51.02 L182.63 50.61 L183.00 50.47 L183.37 50.61 L183.73 51.02 L184.10 51.71 L184.47 52.67 L184.84 53.91 L185.20 55.42 L185.57 57.19 L185.94 59.23 L186.31 61.52 L186.67 64.08 L187.04 66.88 L187.41 69.93 L187.77 73.23 L188.14 76.76 L188.51 80.51 L188.88 84.49 L189.24 88.69 L189.61 93.09 L189.98 97.69 L190.35 102.48 L190.71 107.46 L191.08 112.61 L191.45 117.92 L191.81 123.39 L192.18 129.01 L192.55 134.76 L192.92 140.64 L193.28 146.63 L193.65 152.73 L194.02 158.92 L194.39 165.20 L194.75 171.54 L195.12 177.95 L195.49 184.41 L195.85 190.91 L196.22 197.43 L196.59 203.98 L196.96 210.52 L197.32 217.07 L197.69 223.59 L198.06 230.09 L198.43 236.54 L198.79 242.95 L199.16 249.29 L199.53 255.56 L199.89 261.74 L200.26 267.80 L200.63 273.67 L201.00 277.96 L201.36 273.68 L201.73 268.17 L202.10 262.70 L202.47 257.35 L202.83 252.15 L203.20 247.10 L203.57 242.22 L203.93 237.52 L204.30 232.99 L204.67 228.66 L205.04 224.52 L205.40 220.58 L205.77 216.84 L206.14 213.32 L206.51 210.01 L206.87 206.91 L207.24 204.04 L207.61 201.39 L207.97 198.97 L208.34 196.78 L208.71 194.82 L209.08 193.09 L209.44 191.58 L209.81 190.32 L210.18 189.28 L210.55 188.47 L210.91 187.90 L211.28 187.54 L211.65 187.42 L212.01 187.52 L212.38 187.84 L212.75 188.37 L213.12 189.11 L213.48 190.07 L213.85 191.23 L214.22 192.58 L214.59 194.13 L214.95 195.86 L215.32 197.78 L215.69 199.87 L216.05 202.13 L216.42 204.55 L216.79 207.13 L217.16 209.85 L217.52 212.71 L217.89 215.69 L218.26 218.81 L218.63 222.03 L218.99 225.36 L219.36 228.79 L219.73 232.30 L220.09 235.89 L220.46 239.55 L220.83 243.27 L221.20 247.04 L221.56 250.85 L221.93 254.70 L222.30 258.56 L222.67 262.43 L223.03 266.30 L223.40 270.14 L223.77 273.91 L224.13 277.27 L224.50 277.02 L224.87 273.64 L225.24 270.01 L225.60 266.37 L225.97 262.77 L226.34 259.24 L226.71 255.78 L227.07 252.40 L227.44 249.11 L227.81 245.93 L228.17 242.85 L228.54 239.88 L228.91 237.03 L229.28 234.30 L229.64 231.71 L230.01 229.25 L230.38 226.93 L230.75 224.76 L231.11 222.73 L231.48 220.86 L231.85 219.14 L232.21 217.58 L232.58 216.19 L232.95 214.95 L233.32 213.88 L233.68 212.97 L234.05 212.23 L234.42 211.66 L234.79 211.26 L235.15 211.02 L235.52 210.95 L235.89 211.05 L236.25 211.31 L236.62 211.73 L236.99 212.31 L237.36 213.06 L237.72 213.95 L238.09 215.00 L238.46 216.20 L238.83 217.54 L239.19 219.02 L239.56 220.64 L239.93 222.39 L240.29 224.26 L240.66 226.26 L241.03 228.37 L241.40 230.59 L241.76 232.92 L242.13 235.34 L242.50 237.86 L242.87 240.46 L243.23 243.14 L243.60 245.89 L243.97 248.70 L244.33 251.57 L244.70 254.49 L245.07 257.45 L245.44 260.44 L245.80 263.46 L246.17 266.49 L246.54 269.52 L246.91 272.53 L247.27 275.43 L247.64 277.76 L248.01 276.97 L248.37 274.30 L248.74 271.41 L249.11 268.50 L249.48 265.61 L249.84 262.76 L250.21 259.96 L250.58 257.22 L250.95 254.55 L251.31 251.94 L251.68 249.42 L252.05 246.99 L252.41 244.64 L252.78 242.39 L253.15 240.25 L253.52 238.20 L253.88 236.27 L254.25 234.45 L254.62 232.76 L254.99 231.18 L255.35 229.72 L255.72 228.40 L256.09 227.20 L256.45 226.14 L256.82 225.21 L257.19 224.42 L257.56 223.76 L257.92 223.24 L258.29 222.86 L258.66 222.62 L259.03 222.51 L259.39 222.55 L259.76 222.72 L260.13 223.03 L260.49 223.47 L260.86 224.04 L261.23 224.75 L261.60 225.59 L261.96 226.55 L262.33 227.63 L262.70 228.84 L263.07 230.16 L263.43 231.60 L263.80 233.14 L264.17 234.79 L264.53 236.54 L264.90 238.38 L265.27 240.32 L265.64 242.34 L266.00 244.45 L266.37 246.62 L266.74 248.87 L267.11 251.18 L267.47 253.55 L267.84 255.97 L268.21 258.44 L268.57 260.94 L268.94 263.47 L269.31 266.03 L269.68 268.60 L270.04 271.17 L270.41 273.71 L270.78 276.12 L271.15 277.88 L271.51 277.05 L271.88 274.80 L272.25 272.35 L272.61 269.86 L272.98 267.38 L273.35 264.93 L273.72 262.52 L274.08 260.15 L274.45 257.84 L274.82 255.59 L275.19 253.40 L275.55 251.29 L275.92 249.25 L276.29 247.29 L276.65 245.42 L277.02 243.63 L277.39 241.94 L277.76 240.35 L278.12 238.86 L278.49 237.47 L278.86 236.19 L279.23 235.02 L279.59 233.96 L279.96 233.01 L280.33 232.18 L280.69 231.47 L281.06 230.88 L281.43 230.40 L281.80 230.05 L282.16 229.81 L282.53 229.70 L282.90 229.71 L283.27 229.84 L283.63 230.09 L284.00 230.46 L284.37 230.94 L284.73 231.54 L285.10 232.25 L285.47 233.08 L285.84 234.01 L286.20 235.05 L286.57 236.20 L286.94 237.44 L287.31 238.78 L287.67 240.22 L288.04 241.75 L288.41 243.36 L288.77 245.05 L289.14 246.82 L289.51 248.66 L289.88 250.57 L290.24 252.55 L290.61 254.58 L290.98 256.66 L291.35 258.79 L291.71 260.97 L292.08 263.17 L292.45 265.41 L292.81 267.67 L293.18 269.93 L293.55 272.20 L293.92 274.42 L294.28 276.52 L294.65 277.92 L295.02 277.14 L295.39 275.18 L295.75 273.02 L296.12 270.81 L296.49 268.61 L296.85 266.43 L297.22 264.28 L297.59 262.17 L297.96 260.10 L298.32 258.09 L298.69 256.14 L299.06 254.24 L299.43 252.41 L299.79 250.66 L300.16 248.97 L300.53 247.37 L300.89 245.85 L301.26 244.42 L301.63 243.07 L302.00 241.82 L302.36 240.66 L302.73 239.60 L303.10 238.64 L303.47 237.78 L303.83 237.02 L304.20 236.37 L304.57 235.83 L304.93 235.39 L305.30 235.06 L305.67 234.84 L306.04 234.72 L306.40 234.72 L306.77 234.82 L307.14 235.04 L307.51 235.36 L307.87 235.78 L308.24 236.31 L308.61 236.94 L308.97 237.67 L309.34 238.51 L309.71 239.43 L310.08 240.46 L310.44 241.57 L310.81 242.77 L311.18 244.06 L311.55 245.43 L311.91 246.88 L312.28 248.40 L312.65 250.00 L313.01 251.66 L313.38 253.38 L313.75 255.16 L314.12 256.99 L314.48 258.88 L314.85 260.80 L315.22 262.76 L315.59 264.76 L315.95 266.78 L316.32 268.82 L316.69 270.87 L317.05 272.91 L317.42 274.91 L317.79 276.77 L318.16 277.94 L318.52 277.22 L318.89 275.48 L319.26 273.53 L319.63 271.53 L319.99 269.53 L320.36 267.55 L320.73 265.59 L321.09 263.67 L321.46 261.78 L321.83 259.95 L322.20 258.16 L322.56 256.43 L322.93 254.76 L323.30 253.15 L323.67 251.61 L324.03 250.15 L324.40 248.75 L324.77 247.44 L325.13 246.20 L325.50 245.05 L325.87 243.99 L326.24 243.01 L326.60 242.12 L326.97 241.33 L327.34 240.63 L327.71 240.03 L328.07 239.52 L328.44 239.11 L328.81 238.81 L329.17 238.60 L329.54 238.49 L329.91 238.47" fill="none" stroke="#0000ff" stroke-width="1.35" stroke-linejoin="round" stroke-linecap="butt"/>
<line x1="183" y1="4.7" x2="183" y2="279.8" stroke="#050505" stroke-width="1.8"/>
<path d="M34.4 279.8v-5.1M34.4 4.7v5.1M49.26 279.8v-2.9M49.26 4.7v2.9M64.12 279.8v-2.9M64.12 4.7v2.9M78.98 279.8v-2.9M78.98 4.7v2.9M93.84 279.8v-2.9M93.84 4.7v2.9M108.7 279.8v-5.1M108.7 4.7v5.1M123.56 279.8v-2.9M123.56 4.7v2.9M138.42 279.8v-2.9M138.42 4.7v2.9M153.28 279.8v-2.9M153.28 4.7v2.9M168.14 279.8v-2.9M168.14 4.7v2.9M183 279.8v-5.1M183 4.7v5.1M197.86 279.8v-2.9M197.86 4.7v2.9M212.72 279.8v-2.9M212.72 4.7v2.9M227.58 279.8v-2.9M227.58 4.7v2.9M242.44 279.8v-2.9M242.44 4.7v2.9M257.3 279.8v-5.1M257.3 4.7v5.1M272.16 279.8v-2.9M272.16 4.7v2.9M287.02 279.8v-2.9M287.02 4.7v2.9M301.88 279.8v-2.9M301.88 4.7v2.9M316.74 279.8v-2.9M316.74 4.7v2.9M331.6 279.8v-5.1M331.6 4.7v5.1M31.2 279.8h5.1M334.8 279.8h-5.1M31.2 268.8h2.9M334.8 268.8h-2.9M31.2 257.79h2.9M334.8 257.79h-2.9M31.2 246.79h2.9M334.8 246.79h-2.9M31.2 235.78h2.9M334.8 235.78h-2.9M31.2 224.78h5.1M334.8 224.78h-5.1M31.2 213.78h2.9M334.8 213.78h-2.9M31.2 202.77h2.9M334.8 202.77h-2.9M31.2 191.77h2.9M334.8 191.77h-2.9M31.2 180.76h2.9M334.8 180.76h-2.9M31.2 169.76h5.1M334.8 169.76h-5.1M31.2 158.76h2.9M334.8 158.76h-2.9M31.2 147.75h2.9M334.8 147.75h-2.9M31.2 136.75h2.9M334.8 136.75h-2.9M31.2 125.74h2.9M334.8 125.74h-2.9M31.2 114.74h5.1M334.8 114.74h-5.1M31.2 103.74h2.9M334.8 103.74h-2.9M31.2 92.73h2.9M334.8 92.73h-2.9M31.2 81.73h2.9M334.8 81.73h-2.9M31.2 70.72h2.9M334.8 70.72h-2.9M31.2 59.72h5.1M334.8 59.72h-5.1M31.2 48.72h2.9M334.8 48.72h-2.9M31.2 37.71h2.9M334.8 37.71h-2.9M31.2 26.71h2.9M334.8 26.71h-2.9M31.2 15.7h2.9M334.8 15.7h-2.9M31.2 4.7h5.1M334.8 4.7h-5.1" fill="none" stroke="#000" stroke-width="1.7"/>
<rect x="31.2" y="4.7" width="303.6" height="275.1" fill="none" stroke="#000" stroke-width="1.9"/>
<text transform="translate(34.4 294.45) scale(0.76 1)" text-anchor="middle" class="tk">−0.2</text>
<text transform="translate(108.7 294.45) scale(0.76 1)" text-anchor="middle" class="tk">−0.1</text>
<text transform="translate(183 294.45) scale(0.76 1)" text-anchor="middle" class="tk">0.0</text>
<text transform="translate(257.3 294.45) scale(0.76 1)" text-anchor="middle" class="tk">0.1</text>
<text transform="translate(331.6 294.45) scale(0.76 1)" text-anchor="middle" class="tk">0.2</text>
<text transform="translate(28.6 284.1) scale(0.76 1)" text-anchor="end" class="tk">0</text>
<text transform="translate(28.6 229.08) scale(0.76 1)" text-anchor="end" class="tk">10</text>
<text transform="translate(28.6 174.06) scale(0.76 1)" text-anchor="end" class="tk">20</text>
<text transform="translate(28.6 119.04) scale(0.76 1)" text-anchor="end" class="tk">30</text>
<text transform="translate(28.6 64.02) scale(0.76 1)" text-anchor="end" class="tk">40</text>
<text transform="translate(28.6 9) scale(0.76 1)" text-anchor="end" class="tk">50</text>
<text transform="translate(180.15 319.9) scale(0.8 1.01)" class="th">θ</text>
<text transform="translate(0 159.6) rotate(-90) translate(-0.871 8.442) scale(0.971 0.736)" class="yl">|</text>
<text transform="translate(0 159.6) rotate(-90) translate(5.096 9.131) scale(1.354 0.868)" class="yl" style="font-weight:normal;stroke:#000;stroke-width:0.3px">⟨</text>
<text transform="translate(0 159.6) rotate(-90) translate(22.183 9.131) scale(1.567 0.868)" class="yl" style="font-weight:normal;stroke:#000;stroke-width:0.3px">⟩</text>
<text transform="translate(0 159.6) rotate(-90) translate(31.879 8.442) scale(0.971 0.736)" class="yl">|</text>
<text transform="translate(0 159.6) rotate(-90) translate(10.865 8.585) skewX(-24.23) scale(0.931 0.830)" class="yl" style="font-weight:normal;stroke:#000;stroke-width:0.7px">O</text>
<path d="M383.75 273.09 L384.12 273.09 L384.48 273.11 L384.85 273.14 L385.21 273.18 L385.58 273.25 L385.94 273.32 L386.31 273.41 L386.68 273.51 L387.04 273.63 L387.41 273.76 L387.77 273.91 L388.14 274.07 L388.50 274.24 L388.87 274.42 L389.24 274.61 L389.60 274.81 L389.97 275.02 L390.33 275.24 L390.70 275.47 L391.07 275.70 L391.43 275.94 L391.80 276.18 L392.16 276.42 L392.53 276.66 L392.89 276.90 L393.26 277.12 L393.63 277.34 L393.99 277.53 L394.36 277.69 L394.72 277.81 L395.09 277.88 L395.45 277.90 L395.82 277.87 L396.19 277.78 L396.55 277.64 L396.92 277.47 L397.28 277.26 L397.65 277.04 L398.01 276.80 L398.38 276.55 L398.75 276.29 L399.11 276.04 L399.48 275.78 L399.84 275.52 L400.21 275.27 L400.57 275.03 L400.94 274.79 L401.31 274.56 L401.67 274.33 L402.04 274.12 L402.40 273.92 L402.77 273.73 L403.13 273.55 L403.50 273.38 L403.87 273.23 L404.23 273.09 L404.60 272.97 L404.96 272.86 L405.33 272.76 L405.70 272.68 L406.06 272.62 L406.43 272.57 L406.79 272.54 L407.16 272.52 L407.52 272.52 L407.89 272.54 L408.26 272.58 L408.62 272.62 L408.99 272.69 L409.35 272.77 L409.72 272.87 L410.08 272.98 L410.45 273.11 L410.82 273.26 L411.18 273.41 L411.55 273.59 L411.91 273.77 L412.28 273.97 L412.64 274.18 L413.01 274.41 L413.38 274.64 L413.74 274.88 L414.11 275.14 L414.47 275.40 L414.84 275.66 L415.20 275.93 L415.57 276.20 L415.94 276.47 L416.30 276.74 L416.67 277.00 L417.03 277.24 L417.40 277.46 L417.76 277.65 L418.13 277.79 L418.50 277.88 L418.86 277.90 L419.23 277.86 L419.59 277.75 L419.96 277.58 L420.33 277.38 L420.69 277.14 L421.06 276.88 L421.42 276.60 L421.79 276.32 L422.15 276.03 L422.52 275.73 L422.89 275.44 L423.25 275.16 L423.62 274.87 L423.98 274.60 L424.35 274.33 L424.71 274.07 L425.08 273.82 L425.45 273.58 L425.81 273.35 L426.18 273.13 L426.54 272.93 L426.91 272.75 L427.27 272.57 L427.64 272.42 L428.01 272.28 L428.37 272.15 L428.74 272.04 L429.10 271.95 L429.47 271.88 L429.83 271.82 L430.20 271.79 L430.57 271.77 L430.93 271.77 L431.30 271.78 L431.66 271.82 L432.03 271.87 L432.39 271.94 L432.76 272.03 L433.13 272.14 L433.49 272.27 L433.86 272.41 L434.22 272.57 L434.59 272.75 L434.96 272.94 L435.32 273.15 L435.69 273.37 L436.05 273.61 L436.42 273.86 L436.78 274.12 L437.15 274.39 L437.52 274.68 L437.88 274.97 L438.25 275.28 L438.61 275.58 L438.98 275.90 L439.34 276.21 L439.71 276.52 L440.08 276.82 L440.44 277.11 L440.81 277.37 L441.17 277.60 L441.54 277.77 L441.90 277.88 L442.27 277.90 L442.64 277.84 L443.00 277.70 L443.37 277.49 L443.73 277.24 L444.10 276.95 L444.46 276.64 L444.83 276.31 L445.20 275.98 L445.56 275.64 L445.93 275.30 L446.29 274.96 L446.66 274.63 L447.02 274.30 L447.39 273.98 L447.76 273.67 L448.12 273.36 L448.49 273.07 L448.85 272.80 L449.22 272.53 L449.59 272.29 L449.95 272.05 L450.32 271.84 L450.68 271.63 L451.05 271.45 L451.41 271.29 L451.78 271.14 L452.15 271.01 L452.51 270.91 L452.88 270.82 L453.24 270.75 L453.61 270.70 L453.97 270.68 L454.34 270.67 L454.71 270.69 L455.07 270.72 L455.44 270.78 L455.80 270.86 L456.17 270.96 L456.53 271.08 L456.90 271.22 L457.27 271.39 L457.63 271.57 L458.00 271.77 L458.36 271.99 L458.73 272.23 L459.09 272.48 L459.46 272.76 L459.83 273.05 L460.19 273.35 L460.56 273.67 L460.92 274.01 L461.29 274.35 L461.65 274.71 L462.02 275.07 L462.39 275.44 L462.75 275.81 L463.12 276.18 L463.48 276.55 L463.85 276.90 L464.22 277.23 L464.58 277.51 L464.95 277.74 L465.31 277.87 L465.68 277.90 L466.04 277.81 L466.41 277.61 L466.78 277.33 L467.14 277.00 L467.51 276.64 L467.87 276.25 L468.24 275.84 L468.60 275.43 L468.97 275.02 L469.34 274.60 L469.70 274.19 L470.07 273.78 L470.43 273.39 L470.80 273.00 L471.16 272.62 L471.53 272.25 L471.90 271.90 L472.26 271.56 L472.63 271.24 L472.99 270.94 L473.36 270.65 L473.72 270.39 L474.09 270.14 L474.46 269.91 L474.82 269.71 L475.19 269.52 L475.55 269.36 L475.92 269.22 L476.28 269.11 L476.65 269.02 L477.02 268.96 L477.38 268.92 L477.75 268.90 L478.11 268.91 L478.48 268.95 L478.85 269.01 L479.21 269.10 L479.58 269.21 L479.94 269.35 L480.31 269.51 L480.67 269.70 L481.04 269.92 L481.41 270.16 L481.77 270.42 L482.14 270.71 L482.50 271.01 L482.87 271.35 L483.23 271.70 L483.60 272.07 L483.97 272.46 L484.33 272.87 L484.70 273.30 L485.06 273.74 L485.43 274.19 L485.79 274.66 L486.16 275.13 L486.53 275.61 L486.89 276.09 L487.26 276.55 L487.62 276.99 L487.99 277.38 L488.35 277.69 L488.72 277.88 L489.09 277.89 L489.45 277.71 L489.82 277.40 L490.18 276.98 L490.55 276.51 L490.91 275.99 L491.28 275.46 L491.65 274.91 L492.01 274.36 L492.38 273.80 L492.74 273.25 L493.11 272.70 L493.48 272.16 L493.84 271.63 L494.21 271.11 L494.57 270.60 L494.94 270.11 L495.30 269.63 L495.67 269.17 L496.04 268.73 L496.40 268.31 L496.77 267.92 L497.13 267.54 L497.50 267.20 L497.86 266.87 L498.23 266.58 L498.60 266.31 L498.96 266.07 L499.33 265.86 L499.69 265.68 L500.06 265.53 L500.42 265.42 L500.79 265.34 L501.16 265.29 L501.52 265.27 L501.89 265.29 L502.25 265.35 L502.62 265.43 L502.98 265.56 L503.35 265.72 L503.72 265.92 L504.08 266.15 L504.45 266.42 L504.81 266.72 L505.18 267.06 L505.54 267.43 L505.91 267.84 L506.28 268.28 L506.64 268.76 L507.01 269.26 L507.37 269.80 L507.74 270.38 L508.11 270.98 L508.47 271.61 L508.84 272.26 L509.20 272.94 L509.57 273.65 L509.93 274.37 L510.30 275.10 L510.67 275.83 L511.03 276.54 L511.40 277.19 L511.76 277.70 L512.13 277.90 L512.49 277.70 L512.86 277.15 L513.23 276.42 L513.59 275.58 L513.96 274.69 L514.32 273.76 L514.69 272.80 L515.05 271.82 L515.42 270.84 L515.79 269.84 L516.15 268.84 L516.52 267.83 L516.88 266.82 L517.25 265.81 L517.61 264.81 L517.98 263.81 L518.35 262.81 L518.71 261.83 L519.08 260.86 L519.44 259.89 L519.81 258.95 L520.17 258.02 L520.54 257.10 L520.91 256.21 L521.27 255.34 L521.64 254.49 L522.00 253.66 L522.37 252.86 L522.74 252.08 L523.10 251.34 L523.47 250.62 L523.83 249.94 L524.20 249.28 L524.56 248.66 L524.93 248.08 L525.30 247.53 L525.66 247.02 L526.03 246.54 L526.39 246.11 L526.76 245.71 L527.12 245.35 L527.49 245.03 L527.86 244.76 L528.22 244.52 L528.59 244.33 L528.95 244.18 L529.32 244.07 L529.68 244.01 L530.05 243.99 L530.42 244.01 L530.78 244.07 L531.15 244.18 L531.51 244.33 L531.88 244.52 L532.24 244.76 L532.61 245.03 L532.98 245.35 L533.34 245.71 L533.71 246.11 L534.07 246.54 L534.44 247.02 L534.80 247.53 L535.17 248.08 L535.54 248.66 L535.90 249.28 L536.27 249.94 L536.63 250.62 L537.00 251.34 L537.36 252.08 L537.73 252.86 L538.10 253.66 L538.46 254.49 L538.83 255.34 L539.19 256.21 L539.56 257.10 L539.93 258.02 L540.29 258.95 L540.66 259.89 L541.02 260.86 L541.39 261.83 L541.75 262.81 L542.12 263.81 L542.49 264.81 L542.85 265.81 L543.22 266.82 L543.58 267.83 L543.95 268.84 L544.31 269.84 L544.68 270.84 L545.05 271.82 L545.41 272.80 L545.78 273.76 L546.14 274.69 L546.51 275.58 L546.87 276.42 L547.24 277.15 L547.61 277.70 L547.97 277.90 L548.34 277.70 L548.70 277.19 L549.07 276.54 L549.43 275.83 L549.80 275.10 L550.17 274.37 L550.53 273.65 L550.90 272.94 L551.26 272.26 L551.63 271.61 L551.99 270.98 L552.36 270.38 L552.73 269.80 L553.09 269.26 L553.46 268.76 L553.82 268.28 L554.19 267.84 L554.56 267.43 L554.92 267.06 L555.29 266.72 L555.65 266.42 L556.02 266.15 L556.38 265.92 L556.75 265.72 L557.12 265.56 L557.48 265.43 L557.85 265.35 L558.21 265.29 L558.58 265.27 L558.94 265.29 L559.31 265.34 L559.68 265.42 L560.04 265.53 L560.41 265.68 L560.77 265.86 L561.14 266.07 L561.50 266.31 L561.87 266.58 L562.24 266.87 L562.60 267.20 L562.97 267.54 L563.33 267.92 L563.70 268.31 L564.06 268.73 L564.43 269.17 L564.80 269.63 L565.16 270.11 L565.53 270.60 L565.89 271.11 L566.26 271.63 L566.62 272.16 L566.99 272.70 L567.36 273.25 L567.72 273.80 L568.09 274.36 L568.45 274.91 L568.82 275.46 L569.19 275.99 L569.55 276.51 L569.92 276.98 L570.28 277.40 L570.65 277.71 L571.01 277.89 L571.38 277.88 L571.75 277.69 L572.11 277.38 L572.48 276.99 L572.84 276.55 L573.21 276.09 L573.57 275.61 L573.94 275.13 L574.31 274.66 L574.67 274.19 L575.04 273.74 L575.40 273.30 L575.77 272.87 L576.13 272.46 L576.50 272.07 L576.87 271.70 L577.23 271.35 L577.60 271.01 L577.96 270.71 L578.33 270.42 L578.69 270.16 L579.06 269.92 L579.43 269.70 L579.79 269.51 L580.16 269.35 L580.52 269.21 L580.89 269.10 L581.25 269.01 L581.62 268.95 L581.99 268.91 L582.35 268.90 L582.72 268.92 L583.08 268.96 L583.45 269.02 L583.82 269.11 L584.18 269.22 L584.55 269.36 L584.91 269.52 L585.28 269.71 L585.64 269.91 L586.01 270.14 L586.38 270.39 L586.74 270.65 L587.11 270.94 L587.47 271.24 L587.84 271.56 L588.20 271.90 L588.57 272.25 L588.94 272.62 L589.30 273.00 L589.67 273.39 L590.03 273.78 L590.40 274.19 L590.76 274.60 L591.13 275.02 L591.50 275.43 L591.86 275.84 L592.23 276.25 L592.59 276.64 L592.96 277.00 L593.32 277.33 L593.69 277.61 L594.06 277.81 L594.42 277.90 L594.79 277.87 L595.15 277.74 L595.52 277.51 L595.88 277.23 L596.25 276.90 L596.62 276.55 L596.98 276.18 L597.35 275.81 L597.71 275.44 L598.08 275.07 L598.45 274.71 L598.81 274.35 L599.18 274.01 L599.54 273.67 L599.91 273.35 L600.27 273.05 L600.64 272.76 L601.01 272.48 L601.37 272.23 L601.74 271.99 L602.10 271.77 L602.47 271.57 L602.83 271.39 L603.20 271.22 L603.57 271.08 L603.93 270.96 L604.30 270.86 L604.66 270.78 L605.03 270.72 L605.39 270.69 L605.76 270.67 L606.13 270.68 L606.49 270.70 L606.86 270.75 L607.22 270.82 L607.59 270.91 L607.95 271.01 L608.32 271.14 L608.69 271.29 L609.05 271.45 L609.42 271.63 L609.78 271.84 L610.15 272.05 L610.51 272.29 L610.88 272.53 L611.25 272.80 L611.61 273.07 L611.98 273.36 L612.34 273.67 L612.71 273.98 L613.08 274.30 L613.44 274.63 L613.81 274.96 L614.17 275.30 L614.54 275.64 L614.90 275.98 L615.27 276.31 L615.64 276.64 L616.00 276.95 L616.37 277.24 L616.73 277.49 L617.10 277.70 L617.46 277.84 L617.83 277.90 L618.20 277.88 L618.56 277.77 L618.93 277.60 L619.29 277.37 L619.66 277.11 L620.02 276.82 L620.39 276.52 L620.76 276.21 L621.12 275.90 L621.49 275.58 L621.85 275.28 L622.22 274.97 L622.58 274.68 L622.95 274.39 L623.32 274.12 L623.68 273.86 L624.05 273.61 L624.41 273.37 L624.78 273.15 L625.14 272.94 L625.51 272.75 L625.88 272.57 L626.24 272.41 L626.61 272.27 L626.97 272.14 L627.34 272.03 L627.71 271.94 L628.07 271.87 L628.44 271.82 L628.80 271.78 L629.17 271.77 L629.53 271.77 L629.90 271.79 L630.27 271.82 L630.63 271.88 L631.00 271.95 L631.36 272.04 L631.73 272.15 L632.09 272.28 L632.46 272.42 L632.83 272.57 L633.19 272.75 L633.56 272.93 L633.92 273.13 L634.29 273.35 L634.65 273.58 L635.02 273.82 L635.39 274.07 L635.75 274.33 L636.12 274.60 L636.48 274.87 L636.85 275.16 L637.21 275.44 L637.58 275.73 L637.95 276.03 L638.31 276.32 L638.68 276.60 L639.04 276.88 L639.41 277.14 L639.77 277.38 L640.14 277.58 L640.51 277.75 L640.87 277.86 L641.24 277.90 L641.60 277.88 L641.97 277.79 L642.34 277.65 L642.70 277.46 L643.07 277.24 L643.43 277.00 L643.80 276.74 L644.16 276.47 L644.53 276.20 L644.90 275.93 L645.26 275.66 L645.63 275.40 L645.99 275.14 L646.36 274.88 L646.72 274.64 L647.09 274.41 L647.46 274.18 L647.82 273.97 L648.19 273.77 L648.55 273.59 L648.92 273.41 L649.28 273.26 L649.65 273.11 L650.02 272.98 L650.38 272.87 L650.75 272.77 L651.11 272.69 L651.48 272.62 L651.84 272.58 L652.21 272.54 L652.58 272.52 L652.94 272.52 L653.31 272.54 L653.67 272.57 L654.04 272.62 L654.40 272.68 L654.77 272.76 L655.14 272.86 L655.50 272.97 L655.87 273.09 L656.23 273.23 L656.60 273.38 L656.97 273.55 L657.33 273.73 L657.70 273.92 L658.06 274.12 L658.43 274.33 L658.79 274.56 L659.16 274.79 L659.53 275.03 L659.89 275.27 L660.26 275.52 L660.62 275.78 L660.99 276.04 L661.35 276.29 L661.72 276.55 L662.09 276.80 L662.45 277.04 L662.82 277.26 L663.18 277.47 L663.55 277.64 L663.91 277.78 L664.28 277.87 L664.65 277.90 L665.01 277.88 L665.38 277.81 L665.74 277.69 L666.11 277.53 L666.47 277.34 L666.84 277.12 L667.21 276.90 L667.57 276.66 L667.94 276.42 L668.30 276.18 L668.67 275.94 L669.03 275.70 L669.40 275.47 L669.77 275.24 L670.13 275.02 L670.50 274.81 L670.86 274.61 L671.23 274.42 L671.60 274.24 L671.96 274.07 L672.33 273.91 L672.69 273.76 L673.06 273.63 L673.42 273.51 L673.79 273.41 L674.16 273.32 L674.52 273.25 L674.89 273.18 L675.25 273.14 L675.62 273.11 L675.98 273.09 L676.35 273.09" fill="none" stroke="#ff0000" stroke-width="1.35" stroke-linejoin="round" stroke-linecap="butt"/>
<path d="M383.75 254.23 L384.12 254.23 L384.48 254.30 L384.85 254.43 L385.21 254.61 L385.58 254.86 L385.94 255.17 L386.31 255.53 L386.68 255.95 L387.04 256.43 L387.41 256.97 L387.77 257.55 L388.14 258.20 L388.50 258.89 L388.87 259.63 L389.24 260.42 L389.60 261.26 L389.97 262.13 L390.33 263.05 L390.70 264.01 L391.07 265.00 L391.43 266.02 L391.80 267.06 L392.16 268.13 L392.53 269.21 L392.89 270.30 L393.26 271.38 L393.63 272.44 L393.99 273.45 L394.36 274.37 L394.72 275.14 L395.09 275.65 L395.45 275.80 L395.82 275.54 L396.19 274.94 L396.55 274.10 L396.92 273.12 L397.28 272.06 L397.65 270.96 L398.01 269.83 L398.38 268.69 L398.75 267.56 L399.11 266.44 L399.48 265.33 L399.84 264.24 L400.21 263.19 L400.57 262.16 L400.94 261.17 L401.31 260.21 L401.67 259.30 L402.04 258.43 L402.40 257.60 L402.77 256.82 L403.13 256.10 L403.50 255.43 L403.87 254.81 L404.23 254.25 L404.60 253.74 L404.96 253.30 L405.33 252.92 L405.70 252.60 L406.06 252.34 L406.43 252.15 L406.79 252.02 L407.16 251.95 L407.52 251.96 L407.89 252.02 L408.26 252.16 L408.62 252.36 L408.99 252.62 L409.35 252.95 L409.72 253.35 L410.08 253.81 L410.45 254.33 L410.82 254.91 L411.18 255.55 L411.55 256.25 L411.91 257.00 L412.28 257.81 L412.64 258.68 L413.01 259.59 L413.38 260.55 L413.74 261.56 L414.11 262.61 L414.47 263.70 L414.84 264.82 L415.20 265.98 L415.57 267.15 L415.94 268.35 L416.30 269.56 L416.67 270.76 L417.03 271.95 L417.40 273.10 L417.76 274.15 L418.13 275.03 L418.50 275.63 L418.86 275.79 L419.23 275.47 L419.59 274.75 L419.96 273.77 L420.33 272.65 L420.69 271.44 L421.06 270.20 L421.42 268.93 L421.79 267.66 L422.15 266.39 L422.52 265.13 L422.89 263.90 L423.25 262.69 L423.62 261.51 L423.98 260.37 L424.35 259.26 L424.71 258.20 L425.08 257.18 L425.45 256.20 L425.81 255.28 L426.18 254.41 L426.54 253.60 L426.91 252.85 L427.27 252.16 L427.64 251.52 L428.01 250.96 L428.37 250.46 L428.74 250.03 L429.10 249.66 L429.47 249.37 L429.83 249.15 L430.20 248.99 L430.57 248.92 L430.93 248.91 L431.30 248.98 L431.66 249.12 L432.03 249.33 L432.39 249.62 L432.76 249.98 L433.13 250.42 L433.49 250.92 L433.86 251.49 L434.22 252.13 L434.59 252.84 L434.96 253.62 L435.32 254.46 L435.69 255.36 L436.05 256.32 L436.42 257.34 L436.78 258.42 L437.15 259.54 L437.52 260.72 L437.88 261.94 L438.25 263.20 L438.61 264.50 L438.98 265.83 L439.34 267.18 L439.71 268.55 L440.08 269.93 L440.44 271.29 L440.81 272.61 L441.17 273.84 L441.54 274.89 L441.90 275.61 L442.27 275.79 L442.64 275.35 L443.00 274.45 L443.37 273.27 L443.73 271.95 L444.10 270.54 L444.46 269.10 L444.83 267.64 L445.20 266.18 L445.56 264.72 L445.93 263.29 L446.29 261.88 L446.66 260.49 L447.02 259.14 L447.39 257.83 L447.76 256.56 L448.12 255.34 L448.49 254.17 L448.85 253.06 L449.22 252.00 L449.59 251.00 L449.95 250.06 L450.32 249.19 L450.68 248.39 L451.05 247.65 L451.41 246.99 L451.78 246.41 L452.15 245.90 L452.51 245.47 L452.88 245.12 L453.24 244.85 L453.61 244.67 L453.97 244.56 L454.34 244.54 L454.71 244.60 L455.07 244.75 L455.44 244.98 L455.80 245.30 L456.17 245.70 L456.53 246.18 L456.90 246.75 L457.27 247.39 L457.63 248.12 L458.00 248.92 L458.36 249.81 L458.73 250.76 L459.09 251.79 L459.46 252.89 L459.83 254.06 L460.19 255.30 L460.56 256.59 L460.92 257.95 L461.29 259.36 L461.65 260.82 L462.02 262.33 L462.39 263.88 L462.75 265.46 L463.12 267.07 L463.48 268.69 L463.85 270.31 L464.22 271.89 L464.58 273.39 L464.95 274.70 L465.31 275.59 L465.68 275.76 L466.04 275.12 L466.41 273.92 L466.78 272.43 L467.14 270.80 L467.51 269.09 L467.87 267.35 L468.24 265.60 L468.60 263.85 L468.97 262.11 L469.34 260.39 L469.70 258.70 L470.07 257.04 L470.43 255.43 L470.80 253.86 L471.16 252.33 L471.53 250.86 L471.90 249.45 L472.26 248.10 L472.63 246.82 L472.99 245.61 L473.36 244.47 L473.72 243.40 L474.09 242.42 L474.46 241.51 L474.82 240.70 L475.19 239.97 L475.55 239.33 L475.92 238.79 L476.28 238.33 L476.65 237.98 L477.02 237.72 L477.38 237.56 L477.75 237.50 L478.11 237.55 L478.48 237.69 L478.85 237.94 L479.21 238.28 L479.58 238.73 L479.94 239.29 L480.31 239.94 L480.67 240.69 L481.04 241.54 L481.41 242.49 L481.77 243.54 L482.14 244.68 L482.50 245.91 L482.87 247.23 L483.23 248.64 L483.60 250.13 L483.97 251.70 L484.33 253.35 L484.70 255.08 L485.06 256.87 L485.43 258.72 L485.79 260.64 L486.16 262.60 L486.53 264.61 L486.89 266.65 L487.26 268.70 L487.62 270.73 L487.99 272.69 L488.35 274.42 L488.72 275.60 L489.09 275.66 L489.45 274.53 L489.82 272.75 L490.18 270.69 L490.55 268.50 L490.91 266.25 L491.28 263.97 L491.65 261.68 L492.01 259.39 L492.38 257.12 L492.74 254.88 L493.11 252.66 L493.48 250.49 L493.84 248.35 L494.21 246.27 L494.57 244.25 L494.94 242.29 L495.30 240.39 L495.67 238.57 L496.04 236.83 L496.40 235.17 L496.77 233.60 L497.13 232.13 L497.50 230.75 L497.86 229.47 L498.23 228.30 L498.60 227.25 L498.96 226.30 L499.33 225.47 L499.69 224.77 L500.06 224.19 L500.42 223.73 L500.79 223.40 L501.16 223.21 L501.52 223.15 L501.89 223.23 L502.25 223.44 L502.62 223.79 L502.98 224.29 L503.35 224.92 L503.72 225.69 L504.08 226.61 L504.45 227.67 L504.81 228.86 L505.18 230.20 L505.54 231.68 L505.91 233.29 L506.28 235.04 L506.64 236.93 L507.01 238.94 L507.37 241.09 L507.74 243.36 L508.11 245.76 L508.47 248.28 L508.84 250.91 L509.20 253.65 L509.57 256.49 L509.93 259.43 L510.30 262.45 L510.67 265.54 L511.03 268.65 L511.40 271.71 L511.76 274.44 L512.13 275.80 L512.49 274.43 L512.86 271.52 L513.23 268.10 L513.59 264.48 L513.96 260.74 L514.32 256.93 L514.69 253.06 L515.05 249.14 L515.42 245.20 L515.79 241.23 L516.15 237.24 L516.52 233.25 L516.88 229.26 L517.25 225.28 L517.61 221.31 L517.98 217.37 L518.35 213.46 L518.71 209.58 L519.08 205.75 L519.44 201.96 L519.81 198.24 L520.17 194.57 L520.54 190.98 L520.91 187.47 L521.27 184.03 L521.64 180.69 L522.00 177.44 L522.37 174.29 L522.74 171.25 L523.10 168.32 L523.47 165.50 L523.83 162.81 L524.20 160.25 L524.56 157.81 L524.93 155.52 L525.30 153.36 L525.66 151.35 L526.03 149.48 L526.39 147.76 L526.76 146.20 L527.12 144.80 L527.49 143.55 L527.86 142.47 L528.22 141.55 L528.59 140.79 L528.95 140.20 L529.32 139.78 L529.68 139.53 L530.05 139.44 L530.42 139.53 L530.78 139.78 L531.15 140.20 L531.51 140.79 L531.88 141.55 L532.24 142.47 L532.61 143.55 L532.98 144.80 L533.34 146.20 L533.71 147.76 L534.07 149.48 L534.44 151.35 L534.80 153.36 L535.17 155.52 L535.54 157.81 L535.90 160.25 L536.27 162.81 L536.63 165.50 L537.00 168.32 L537.36 171.25 L537.73 174.29 L538.10 177.44 L538.46 180.69 L538.83 184.03 L539.19 187.47 L539.56 190.98 L539.93 194.57 L540.29 198.24 L540.66 201.96 L541.02 205.75 L541.39 209.58 L541.75 213.46 L542.12 217.37 L542.49 221.31 L542.85 225.28 L543.22 229.26 L543.58 233.25 L543.95 237.24 L544.31 241.23 L544.68 245.20 L545.05 249.14 L545.41 253.06 L545.78 256.93 L546.14 260.74 L546.51 264.48 L546.87 268.10 L547.24 271.52 L547.61 274.43 L547.97 275.80 L548.34 274.44 L548.70 271.71 L549.07 268.65 L549.43 265.54 L549.80 262.45 L550.17 259.43 L550.53 256.49 L550.90 253.65 L551.26 250.91 L551.63 248.28 L551.99 245.76 L552.36 243.36 L552.73 241.09 L553.09 238.94 L553.46 236.93 L553.82 235.04 L554.19 233.29 L554.56 231.68 L554.92 230.20 L555.29 228.86 L555.65 227.67 L556.02 226.61 L556.38 225.69 L556.75 224.92 L557.12 224.29 L557.48 223.79 L557.85 223.44 L558.21 223.23 L558.58 223.15 L558.94 223.21 L559.31 223.40 L559.68 223.73 L560.04 224.19 L560.41 224.77 L560.77 225.47 L561.14 226.30 L561.50 227.25 L561.87 228.30 L562.24 229.47 L562.60 230.75 L562.97 232.13 L563.33 233.60 L563.70 235.17 L564.06 236.83 L564.43 238.57 L564.80 240.39 L565.16 242.29 L565.53 244.25 L565.89 246.27 L566.26 248.35 L566.62 250.49 L566.99 252.66 L567.36 254.88 L567.72 257.12 L568.09 259.39 L568.45 261.68 L568.82 263.97 L569.19 266.25 L569.55 268.50 L569.92 270.69 L570.28 272.75 L570.65 274.53 L571.01 275.66 L571.38 275.60 L571.75 274.42 L572.11 272.69 L572.48 270.73 L572.84 268.70 L573.21 266.65 L573.57 264.61 L573.94 262.60 L574.31 260.64 L574.67 258.72 L575.04 256.87 L575.40 255.08 L575.77 253.35 L576.13 251.70 L576.50 250.13 L576.87 248.64 L577.23 247.23 L577.60 245.91 L577.96 244.68 L578.33 243.54 L578.69 242.49 L579.06 241.54 L579.43 240.69 L579.79 239.94 L580.16 239.29 L580.52 238.73 L580.89 238.28 L581.25 237.94 L581.62 237.69 L581.99 237.55 L582.35 237.50 L582.72 237.56 L583.08 237.72 L583.45 237.98 L583.82 238.33 L584.18 238.79 L584.55 239.33 L584.91 239.97 L585.28 240.70 L585.64 241.51 L586.01 242.42 L586.38 243.40 L586.74 244.47 L587.11 245.61 L587.47 246.82 L587.84 248.10 L588.20 249.45 L588.57 250.86 L588.94 252.33 L589.30 253.86 L589.67 255.43 L590.03 257.04 L590.40 258.70 L590.76 260.39 L591.13 262.11 L591.50 263.85 L591.86 265.60 L592.23 267.35 L592.59 269.09 L592.96 270.80 L593.32 272.43 L593.69 273.92 L594.06 275.12 L594.42 275.76 L594.79 275.59 L595.15 274.70 L595.52 273.39 L595.88 271.89 L596.25 270.31 L596.62 268.69 L596.98 267.07 L597.35 265.46 L597.71 263.88 L598.08 262.33 L598.45 260.82 L598.81 259.36 L599.18 257.95 L599.54 256.59 L599.91 255.30 L600.27 254.06 L600.64 252.89 L601.01 251.79 L601.37 250.76 L601.74 249.81 L602.10 248.92 L602.47 248.12 L602.83 247.39 L603.20 246.75 L603.57 246.18 L603.93 245.70 L604.30 245.30 L604.66 244.98 L605.03 244.75 L605.39 244.60 L605.76 244.54 L606.13 244.56 L606.49 244.67 L606.86 244.85 L607.22 245.12 L607.59 245.47 L607.95 245.90 L608.32 246.41 L608.69 246.99 L609.05 247.65 L609.42 248.39 L609.78 249.19 L610.15 250.06 L610.51 251.00 L610.88 252.00 L611.25 253.06 L611.61 254.17 L611.98 255.34 L612.34 256.56 L612.71 257.83 L613.08 259.14 L613.44 260.49 L613.81 261.88 L614.17 263.29 L614.54 264.72 L614.90 266.18 L615.27 267.64 L615.64 269.10 L616.00 270.54 L616.37 271.95 L616.73 273.27 L617.10 274.45 L617.46 275.35 L617.83 275.79 L618.20 275.61 L618.56 274.89 L618.93 273.84 L619.29 272.61 L619.66 271.29 L620.02 269.93 L620.39 268.55 L620.76 267.18 L621.12 265.83 L621.49 264.50 L621.85 263.20 L622.22 261.94 L622.58 260.72 L622.95 259.54 L623.32 258.42 L623.68 257.34 L624.05 256.32 L624.41 255.36 L624.78 254.46 L625.14 253.62 L625.51 252.84 L625.88 252.13 L626.24 251.49 L626.61 250.92 L626.97 250.42 L627.34 249.98 L627.71 249.62 L628.07 249.33 L628.44 249.12 L628.80 248.98 L629.17 248.91 L629.53 248.92 L629.90 248.99 L630.27 249.15 L630.63 249.37 L631.00 249.66 L631.36 250.03 L631.73 250.46 L632.09 250.96 L632.46 251.52 L632.83 252.16 L633.19 252.85 L633.56 253.60 L633.92 254.41 L634.29 255.28 L634.65 256.20 L635.02 257.18 L635.39 258.20 L635.75 259.26 L636.12 260.37 L636.48 261.51 L636.85 262.69 L637.21 263.90 L637.58 265.13 L637.95 266.39 L638.31 267.66 L638.68 268.93 L639.04 270.20 L639.41 271.44 L639.77 272.65 L640.14 273.77 L640.51 274.75 L640.87 275.47 L641.24 275.79 L641.60 275.63 L641.97 275.03 L642.34 274.15 L642.70 273.10 L643.07 271.95 L643.43 270.76 L643.80 269.56 L644.16 268.35 L644.53 267.15 L644.90 265.98 L645.26 264.82 L645.63 263.70 L645.99 262.61 L646.36 261.56 L646.72 260.55 L647.09 259.59 L647.46 258.68 L647.82 257.81 L648.19 257.00 L648.55 256.25 L648.92 255.55 L649.28 254.91 L649.65 254.33 L650.02 253.81 L650.38 253.35 L650.75 252.95 L651.11 252.62 L651.48 252.36 L651.84 252.16 L652.21 252.02 L652.58 251.96 L652.94 251.95 L653.31 252.02 L653.67 252.15 L654.04 252.34 L654.40 252.60 L654.77 252.92 L655.14 253.30 L655.50 253.74 L655.87 254.25 L656.23 254.81 L656.60 255.43 L656.97 256.10 L657.33 256.82 L657.70 257.60 L658.06 258.43 L658.43 259.30 L658.79 260.21 L659.16 261.17 L659.53 262.16 L659.89 263.19 L660.26 264.24 L660.62 265.33 L660.99 266.44 L661.35 267.56 L661.72 268.69 L662.09 269.83 L662.45 270.96 L662.82 272.06 L663.18 273.12 L663.55 274.10 L663.91 274.94 L664.28 275.54 L664.65 275.80 L665.01 275.65 L665.38 275.14 L665.74 274.37 L666.11 273.45 L666.47 272.44 L666.84 271.38 L667.21 270.30 L667.57 269.21 L667.94 268.13 L668.30 267.06 L668.67 266.02 L669.03 265.00 L669.40 264.01 L669.77 263.05 L670.13 262.13 L670.50 261.26 L670.86 260.42 L671.23 259.63 L671.60 258.89 L671.96 258.20 L672.33 257.55 L672.69 256.97 L673.06 256.43 L673.42 255.95 L673.79 255.53 L674.16 255.17 L674.52 254.86 L674.89 254.61 L675.25 254.43 L675.62 254.30 L675.98 254.23 L676.35 254.23" fill="none" stroke="#00ff00" stroke-width="1.35" stroke-linejoin="round" stroke-linecap="butt"/>
<path d="M383.75 240.72 L384.12 240.73 L384.48 240.83 L384.85 241.03 L385.21 241.32 L385.58 241.70 L385.94 242.17 L386.31 242.74 L386.68 243.39 L387.04 244.14 L387.41 244.97 L387.77 245.88 L388.14 246.88 L388.50 247.96 L388.87 249.11 L389.24 250.34 L389.60 251.64 L389.97 253.01 L390.33 254.45 L390.70 255.95 L391.07 257.50 L391.43 259.11 L391.80 260.76 L392.16 262.46 L392.53 264.19 L392.89 265.94 L393.26 267.71 L393.63 269.48 L393.99 271.22 L394.36 272.88 L394.72 274.36 L395.09 275.46 L395.45 275.80 L395.82 275.20 L396.19 273.96 L396.55 272.38 L396.92 270.65 L397.28 268.85 L397.65 267.02 L398.01 265.19 L398.38 263.36 L398.75 261.55 L399.11 259.77 L399.48 258.02 L399.84 256.32 L400.21 254.66 L400.57 253.05 L400.94 251.50 L401.31 250.02 L401.67 248.59 L402.04 247.24 L402.40 245.95 L402.77 244.75 L403.13 243.62 L403.50 242.58 L403.87 241.62 L404.23 240.75 L404.60 239.97 L404.96 239.28 L405.33 238.69 L405.70 238.19 L406.06 237.79 L406.43 237.49 L406.79 237.29 L407.16 237.20 L407.52 237.20 L407.89 237.31 L408.26 237.51 L408.62 237.82 L408.99 238.23 L409.35 238.74 L409.72 239.35 L410.08 240.06 L410.45 240.87 L410.82 241.77 L411.18 242.77 L411.55 243.85 L411.91 245.03 L412.28 246.29 L412.64 247.63 L413.01 249.05 L413.38 250.55 L413.74 252.12 L414.11 253.76 L414.47 255.46 L414.84 257.23 L415.20 259.04 L415.57 260.91 L415.94 262.81 L416.30 264.75 L416.67 266.70 L417.03 268.66 L417.40 270.60 L417.76 272.47 L418.13 274.15 L418.50 275.41 L418.86 275.79 L419.23 275.05 L419.59 273.59 L419.96 271.78 L420.33 269.83 L420.69 267.82 L421.06 265.78 L421.42 263.73 L421.79 261.70 L422.15 259.69 L422.52 257.72 L422.89 255.78 L423.25 253.88 L423.62 252.04 L423.98 250.26 L424.35 248.53 L424.71 246.88 L425.08 245.29 L425.45 243.78 L425.81 242.35 L426.18 241.01 L426.54 239.75 L426.91 238.58 L427.27 237.51 L427.64 236.53 L428.01 235.65 L428.37 234.88 L428.74 234.21 L429.10 233.65 L429.47 233.19 L429.83 232.85 L430.20 232.62 L430.57 232.49 L430.93 232.49 L431.30 232.59 L431.66 232.81 L432.03 233.14 L432.39 233.59 L432.76 234.14 L433.13 234.81 L433.49 235.59 L433.86 236.48 L434.22 237.47 L434.59 238.57 L434.96 239.78 L435.32 241.08 L435.69 242.48 L436.05 243.97 L436.42 245.55 L436.78 247.22 L437.15 248.97 L437.52 250.80 L437.88 252.71 L438.25 254.68 L438.61 256.72 L438.98 258.81 L439.34 260.95 L439.71 263.13 L440.08 265.34 L440.44 267.56 L440.81 269.77 L441.17 271.91 L441.54 273.87 L441.90 275.36 L442.27 275.77 L442.64 274.80 L443.00 273.02 L443.37 270.91 L443.73 268.65 L444.10 266.34 L444.46 264.01 L444.83 261.68 L445.20 259.36 L445.56 257.07 L445.93 254.82 L446.29 252.61 L446.66 250.45 L447.02 248.35 L447.39 246.31 L447.76 244.34 L448.12 242.45 L448.49 240.63 L448.85 238.90 L449.22 237.26 L449.59 235.71 L449.95 234.26 L450.32 232.92 L450.68 231.67 L451.05 230.54 L451.41 229.52 L451.78 228.62 L452.15 227.83 L452.51 227.17 L452.88 226.63 L453.24 226.21 L453.61 225.92 L453.97 225.76 L454.34 225.73 L454.71 225.83 L455.07 226.06 L455.44 226.41 L455.80 226.90 L456.17 227.52 L456.53 228.27 L456.90 229.14 L457.27 230.14 L457.63 231.26 L458.00 232.51 L458.36 233.87 L458.73 235.35 L459.09 236.95 L459.46 238.65 L459.83 240.46 L460.19 242.38 L460.56 244.39 L460.92 246.50 L461.29 248.69 L461.65 250.97 L462.02 253.32 L462.39 255.75 L462.75 258.23 L463.12 260.77 L463.48 263.35 L463.85 265.96 L464.22 268.57 L464.58 271.12 L464.95 273.49 L465.31 275.32 L465.68 275.72 L466.04 274.33 L466.41 272.06 L466.78 269.47 L467.14 266.76 L467.51 264.00 L467.87 261.22 L468.24 258.45 L468.60 255.70 L468.97 252.97 L469.34 250.29 L469.70 247.66 L470.07 245.09 L470.43 242.58 L470.80 240.14 L471.16 237.78 L471.53 235.51 L471.90 233.32 L472.26 231.24 L472.63 229.25 L472.99 227.38 L473.36 225.61 L473.72 223.97 L474.09 222.45 L474.46 221.06 L474.82 219.80 L475.19 218.67 L475.55 217.69 L475.92 216.84 L476.28 216.15 L476.65 215.60 L477.02 215.20 L477.38 214.96 L477.75 214.87 L478.11 214.93 L478.48 215.15 L478.85 215.53 L479.21 216.07 L479.58 216.77 L479.94 217.62 L480.31 218.62 L480.67 219.79 L481.04 221.10 L481.41 222.57 L481.77 224.18 L482.14 225.94 L482.50 227.84 L482.87 229.89 L483.23 232.06 L483.60 234.37 L483.97 236.81 L484.33 239.36 L484.70 242.03 L485.06 244.81 L485.43 247.70 L485.79 250.68 L486.16 253.75 L486.53 256.89 L486.89 260.10 L487.26 263.37 L487.62 266.65 L487.99 269.90 L488.35 272.98 L488.72 275.35 L489.09 275.48 L489.45 273.18 L489.82 270.02 L490.18 266.59 L490.55 263.05 L490.91 259.48 L491.28 255.89 L491.65 252.31 L492.01 248.74 L492.38 245.21 L492.74 241.73 L493.11 238.29 L493.48 234.92 L493.84 231.62 L494.21 228.41 L494.57 225.28 L494.94 222.25 L495.30 219.32 L495.67 216.51 L496.04 213.83 L496.40 211.27 L496.77 208.85 L497.13 206.57 L497.50 204.45 L497.86 202.48 L498.23 200.68 L498.60 199.04 L498.96 197.59 L499.33 196.31 L499.69 195.22 L500.06 194.33 L500.42 193.62 L500.79 193.12 L501.16 192.82 L501.52 192.73 L501.89 192.85 L502.25 193.18 L502.62 193.72 L502.98 194.48 L503.35 195.46 L503.72 196.65 L504.08 198.06 L504.45 199.69 L504.81 201.54 L505.18 203.60 L505.54 205.88 L505.91 208.37 L506.28 211.07 L506.64 213.98 L507.01 217.09 L507.37 220.40 L507.74 223.91 L508.11 227.62 L508.47 231.51 L508.84 235.58 L509.20 239.82 L509.57 244.23 L509.93 248.80 L510.30 253.51 L510.67 258.35 L511.03 263.30 L511.40 268.27 L511.76 273.01 L512.13 275.80 L512.49 273.00 L512.86 267.94 L513.23 262.41 L513.59 256.69 L513.96 250.84 L514.32 244.91 L514.69 238.91 L515.05 232.85 L515.42 226.74 L515.79 220.61 L516.15 214.46 L516.52 208.31 L516.88 202.15 L517.25 196.01 L517.61 189.90 L517.98 183.82 L518.35 177.79 L518.71 171.82 L519.08 165.91 L519.44 160.08 L519.81 154.34 L520.17 148.70 L520.54 143.17 L520.91 137.76 L521.27 132.47 L521.64 127.32 L522.00 122.32 L522.37 117.47 L522.74 112.78 L523.10 108.27 L523.47 103.94 L523.83 99.79 L524.20 95.84 L524.56 92.10 L524.93 88.56 L525.30 85.24 L525.66 82.14 L526.03 79.26 L526.39 76.62 L526.76 74.22 L527.12 72.05 L527.49 70.14 L527.86 68.47 L528.22 67.05 L528.59 65.89 L528.95 64.98 L529.32 64.33 L529.68 63.94 L530.05 63.81 L530.42 63.94 L530.78 64.33 L531.15 64.98 L531.51 65.89 L531.88 67.05 L532.24 68.47 L532.61 70.14 L532.98 72.05 L533.34 74.22 L533.71 76.62 L534.07 79.26 L534.44 82.14 L534.80 85.24 L535.17 88.56 L535.54 92.10 L535.90 95.84 L536.27 99.79 L536.63 103.94 L537.00 108.27 L537.36 112.78 L537.73 117.47 L538.10 122.32 L538.46 127.32 L538.83 132.47 L539.19 137.76 L539.56 143.17 L539.93 148.70 L540.29 154.34 L540.66 160.08 L541.02 165.91 L541.39 171.82 L541.75 177.79 L542.12 183.82 L542.49 189.90 L542.85 196.01 L543.22 202.15 L543.58 208.31 L543.95 214.46 L544.31 220.61 L544.68 226.74 L545.05 232.85 L545.41 238.91 L545.78 244.91 L546.14 250.84 L546.51 256.69 L546.87 262.41 L547.24 267.94 L547.61 273.00 L547.97 275.80 L548.34 273.01 L548.70 268.27 L549.07 263.30 L549.43 258.35 L549.80 253.51 L550.17 248.80 L550.53 244.23 L550.90 239.82 L551.26 235.58 L551.63 231.51 L551.99 227.62 L552.36 223.91 L552.73 220.40 L553.09 217.09 L553.46 213.98 L553.82 211.07 L554.19 208.37 L554.56 205.88 L554.92 203.60 L555.29 201.54 L555.65 199.69 L556.02 198.06 L556.38 196.65 L556.75 195.46 L557.12 194.48 L557.48 193.72 L557.85 193.18 L558.21 192.85 L558.58 192.73 L558.94 192.82 L559.31 193.12 L559.68 193.62 L560.04 194.33 L560.41 195.22 L560.77 196.31 L561.14 197.59 L561.50 199.04 L561.87 200.68 L562.24 202.48 L562.60 204.45 L562.97 206.57 L563.33 208.85 L563.70 211.27 L564.06 213.83 L564.43 216.51 L564.80 219.32 L565.16 222.25 L565.53 225.28 L565.89 228.41 L566.26 231.62 L566.62 234.92 L566.99 238.29 L567.36 241.73 L567.72 245.21 L568.09 248.74 L568.45 252.31 L568.82 255.89 L569.19 259.48 L569.55 263.05 L569.92 266.59 L570.28 270.02 L570.65 273.18 L571.01 275.48 L571.38 275.35 L571.75 272.98 L572.11 269.90 L572.48 266.65 L572.84 263.37 L573.21 260.10 L573.57 256.89 L573.94 253.75 L574.31 250.68 L574.67 247.70 L575.04 244.81 L575.40 242.03 L575.77 239.36 L576.13 236.81 L576.50 234.37 L576.87 232.06 L577.23 229.89 L577.60 227.84 L577.96 225.94 L578.33 224.18 L578.69 222.57 L579.06 221.10 L579.43 219.79 L579.79 218.62 L580.16 217.62 L580.52 216.77 L580.89 216.07 L581.25 215.53 L581.62 215.15 L581.99 214.93 L582.35 214.87 L582.72 214.96 L583.08 215.20 L583.45 215.60 L583.82 216.15 L584.18 216.84 L584.55 217.69 L584.91 218.67 L585.28 219.80 L585.64 221.06 L586.01 222.45 L586.38 223.97 L586.74 225.61 L587.11 227.38 L587.47 229.25 L587.84 231.24 L588.20 233.32 L588.57 235.51 L588.94 237.78 L589.30 240.14 L589.67 242.58 L590.03 245.09 L590.40 247.66 L590.76 250.29 L591.13 252.97 L591.50 255.70 L591.86 258.45 L592.23 261.22 L592.59 264.00 L592.96 266.76 L593.32 269.47 L593.69 272.06 L594.06 274.33 L594.42 275.72 L594.79 275.32 L595.15 273.49 L595.52 271.12 L595.88 268.57 L596.25 265.96 L596.62 263.35 L596.98 260.77 L597.35 258.23 L597.71 255.75 L598.08 253.32 L598.45 250.97 L598.81 248.69 L599.18 246.50 L599.54 244.39 L599.91 242.38 L600.27 240.46 L600.64 238.65 L601.01 236.95 L601.37 235.35 L601.74 233.87 L602.10 232.51 L602.47 231.26 L602.83 230.14 L603.20 229.14 L603.57 228.27 L603.93 227.52 L604.30 226.90 L604.66 226.41 L605.03 226.06 L605.39 225.83 L605.76 225.73 L606.13 225.76 L606.49 225.92 L606.86 226.21 L607.22 226.63 L607.59 227.17 L607.95 227.83 L608.32 228.62 L608.69 229.52 L609.05 230.54 L609.42 231.67 L609.78 232.92 L610.15 234.26 L610.51 235.71 L610.88 237.26 L611.25 238.90 L611.61 240.63 L611.98 242.45 L612.34 244.34 L612.71 246.31 L613.08 248.35 L613.44 250.45 L613.81 252.61 L614.17 254.82 L614.54 257.07 L614.90 259.36 L615.27 261.68 L615.64 264.01 L616.00 266.34 L616.37 268.65 L616.73 270.91 L617.10 273.02 L617.46 274.80 L617.83 275.77 L618.20 275.36 L618.56 273.87 L618.93 271.91 L619.29 269.77 L619.66 267.56 L620.02 265.34 L620.39 263.13 L620.76 260.95 L621.12 258.81 L621.49 256.72 L621.85 254.68 L622.22 252.71 L622.58 250.80 L622.95 248.97 L623.32 247.22 L623.68 245.55 L624.05 243.97 L624.41 242.48 L624.78 241.08 L625.14 239.78 L625.51 238.57 L625.88 237.47 L626.24 236.48 L626.61 235.59 L626.97 234.81 L627.34 234.14 L627.71 233.59 L628.07 233.14 L628.44 232.81 L628.80 232.59 L629.17 232.49 L629.53 232.49 L629.90 232.62 L630.27 232.85 L630.63 233.19 L631.00 233.65 L631.36 234.21 L631.73 234.88 L632.09 235.65 L632.46 236.53 L632.83 237.51 L633.19 238.58 L633.56 239.75 L633.92 241.01 L634.29 242.35 L634.65 243.78 L635.02 245.29 L635.39 246.88 L635.75 248.53 L636.12 250.26 L636.48 252.04 L636.85 253.88 L637.21 255.78 L637.58 257.72 L637.95 259.69 L638.31 261.70 L638.68 263.73 L639.04 265.78 L639.41 267.82 L639.77 269.83 L640.14 271.78 L640.51 273.59 L640.87 275.05 L641.24 275.79 L641.60 275.41 L641.97 274.15 L642.34 272.47 L642.70 270.60 L643.07 268.66 L643.43 266.70 L643.80 264.75 L644.16 262.81 L644.53 260.91 L644.90 259.04 L645.26 257.23 L645.63 255.46 L645.99 253.76 L646.36 252.12 L646.72 250.55 L647.09 249.05 L647.46 247.63 L647.82 246.29 L648.19 245.03 L648.55 243.85 L648.92 242.77 L649.28 241.77 L649.65 240.87 L650.02 240.06 L650.38 239.35 L650.75 238.74 L651.11 238.23 L651.48 237.82 L651.84 237.51 L652.21 237.31 L652.58 237.20 L652.94 237.20 L653.31 237.29 L653.67 237.49 L654.04 237.79 L654.40 238.19 L654.77 238.69 L655.14 239.28 L655.50 239.97 L655.87 240.75 L656.23 241.62 L656.60 242.58 L656.97 243.62 L657.33 244.75 L657.70 245.95 L658.06 247.24 L658.43 248.59 L658.79 250.02 L659.16 251.50 L659.53 253.05 L659.89 254.66 L660.26 256.32 L660.62 258.02 L660.99 259.77 L661.35 261.55 L661.72 263.36 L662.09 265.19 L662.45 267.02 L662.82 268.85 L663.18 270.65 L663.55 272.38 L663.91 273.96 L664.28 275.20 L664.65 275.80 L665.01 275.46 L665.38 274.36 L665.74 272.88 L666.11 271.22 L666.47 269.48 L666.84 267.71 L667.21 265.94 L667.57 264.19 L667.94 262.46 L668.30 260.76 L668.67 259.11 L669.03 257.50 L669.40 255.95 L669.77 254.45 L670.13 253.01 L670.50 251.64 L670.86 250.34 L671.23 249.11 L671.60 247.96 L671.96 246.88 L672.33 245.88 L672.69 244.97 L673.06 244.14 L673.42 243.39 L673.79 242.74 L674.16 242.17 L674.52 241.70 L674.89 241.32 L675.25 241.03 L675.62 240.83 L675.98 240.73 L676.35 240.72" fill="none" stroke="#0000ff" stroke-width="1.35" stroke-linejoin="round" stroke-linecap="butt"/>
<line x1="530.1" y1="4.7" x2="530.1" y2="279.8" stroke="#050505" stroke-width="1.8"/>
<path d="M381.6 279.8v-5.1M381.6 4.7v5.1M396.45 279.8v-2.9M396.45 4.7v2.9M411.3 279.8v-2.9M411.3 4.7v2.9M426.15 279.8v-2.9M426.15 4.7v2.9M441 279.8v-2.9M441 4.7v2.9M455.85 279.8v-5.1M455.85 4.7v5.1M470.7 279.8v-2.9M470.7 4.7v2.9M485.55 279.8v-2.9M485.55 4.7v2.9M500.4 279.8v-2.9M500.4 4.7v2.9M515.25 279.8v-2.9M515.25 4.7v2.9M530.1 279.8v-5.1M530.1 4.7v5.1M544.95 279.8v-2.9M544.95 4.7v2.9M559.8 279.8v-2.9M559.8 4.7v2.9M574.65 279.8v-2.9M574.65 4.7v2.9M589.5 279.8v-2.9M589.5 4.7v2.9M604.35 279.8v-5.1M604.35 4.7v5.1M619.2 279.8v-2.9M619.2 4.7v2.9M634.05 279.8v-2.9M634.05 4.7v2.9M648.9 279.8v-2.9M648.9 4.7v2.9M663.75 279.8v-2.9M663.75 4.7v2.9M678.6 279.8v-5.1M678.6 4.7v5.1M378.4 279.8h5.1M682 279.8h-5.1M378.4 266.05h2.9M682 266.05h-2.9M378.4 252.29h2.9M682 252.29h-2.9M378.4 238.54h2.9M682 238.54h-2.9M378.4 224.78h2.9M682 224.78h-2.9M378.4 211.03h5.1M682 211.03h-5.1M378.4 197.27h2.9M682 197.27h-2.9M378.4 183.51h2.9M682 183.51h-2.9M378.4 169.76h2.9M682 169.76h-2.9M378.4 156h2.9M682 156h-2.9M378.4 142.25h5.1M682 142.25h-5.1M378.4 128.5h2.9M682 128.5h-2.9M378.4 114.74h2.9M682 114.74h-2.9M378.4 100.99h2.9M682 100.99h-2.9M378.4 87.23h2.9M682 87.23h-2.9M378.4 73.47h5.1M682 73.47h-5.1M378.4 59.72h2.9M682 59.72h-2.9M378.4 45.97h2.9M682 45.97h-2.9M378.4 32.21h2.9M682 32.21h-2.9M378.4 18.45h2.9M682 18.45h-2.9M378.4 4.7h5.1M682 4.7h-5.1" fill="none" stroke="#000" stroke-width="1.7"/>
<rect x="378.4" y="4.7" width="303.6" height="275.1" fill="none" stroke="#000" stroke-width="1.9"/>
<text transform="translate(381.6 294.45) scale(0.76 1)" text-anchor="middle" class="tk">−0.2</text>
<text transform="translate(455.85 294.45) scale(0.76 1)" text-anchor="middle" class="tk">−0.1</text>
<text transform="translate(530.1 294.45) scale(0.76 1)" text-anchor="middle" class="tk">0.0</text>
<text transform="translate(604.35 294.45) scale(0.76 1)" text-anchor="middle" class="tk">0.1</text>
<text transform="translate(678.6 294.45) scale(0.76 1)" text-anchor="middle" class="tk">0.2</text>
<text transform="translate(375.8 284.1) scale(0.76 1)" text-anchor="end" class="tk">0</text>
<text transform="translate(375.8 215.33) scale(0.76 1)" text-anchor="end" class="tk">5</text>
<text transform="translate(375.8 146.55) scale(0.76 1)" text-anchor="end" class="tk">10</text>
<text transform="translate(375.8 77.77) scale(0.76 1)" text-anchor="end" class="tk">15</text>
<text transform="translate(375.8 9) scale(0.76 1)" text-anchor="end" class="tk">20</text>
<text transform="translate(527.35 319.9) scale(0.8 1.01)" class="th">θ</text>
<text transform="translate(347 159.6) rotate(-90) translate(-0.871 8.442) scale(0.971 0.736)" class="yl">|</text>
<text transform="translate(347 159.6) rotate(-90) translate(5.096 9.131) scale(1.354 0.868)" class="yl" style="font-weight:normal;stroke:#000;stroke-width:0.3px">⟨</text>
<text transform="translate(347 159.6) rotate(-90) translate(22.183 9.131) scale(1.567 0.868)" class="yl" style="font-weight:normal;stroke:#000;stroke-width:0.3px">⟩</text>
<text transform="translate(347 159.6) rotate(-90) translate(31.879 8.442) scale(0.971 0.736)" class="yl">|</text>
<text transform="translate(347 159.6) rotate(-90) translate(10.865 8.585) skewX(-24.23) scale(0.931 0.830)" class="yl" style="font-weight:normal;stroke:#000;stroke-width:0.7px">O</text>
<line x1="268" y1="35.0" x2="287" y2="35.0" stroke="#ff0000" stroke-width="1.4"/>
<text transform="translate(293.82 39.1) scale(0.732 1)" class="lg">a<tspan dy="0.7">=</tspan><tspan dy="-0.7">0.1</tspan></text>
<line x1="268" y1="63.0" x2="287" y2="63.0" stroke="#00ff00" stroke-width="1.4"/>
<text transform="translate(293.82 67.1) scale(0.732 1)" class="lg">a<tspan dy="0.7">=</tspan><tspan dy="-0.7">0.2</tspan></text>
<line x1="268" y1="90.6" x2="287" y2="90.6" stroke="#0000ff" stroke-width="1.4"/>
<text transform="translate(293.82 94.7) scale(0.732 1)" class="lg">a<tspan dy="0.7">=</tspan><tspan dy="-0.7">0.3</tspan></text>
<line x1="599" y1="37.7" x2="618" y2="37.7" stroke="#ff0000" stroke-width="1.4"/>
<text transform="translate(625.32 41.79) scale(0.833 0.936)" class="lg it" style="stroke-width:0.2px">ρ</text>
<text transform="translate(634.40 44.39) scale(0.622 0.823)" class="lg it" style="font-size:11.5px;stroke-width:0.7px">h</text>
<text transform="translate(639.82 41.8) scale(0.753 1)" class="lg"><tspan dy="0.7">=</tspan><tspan dy="-0.7">0.5</tspan></text>
<line x1="599" y1="65.3" x2="618" y2="65.3" stroke="#00ff00" stroke-width="1.4"/>
<text transform="translate(625.32 69.39) scale(0.833 0.936)" class="lg it" style="stroke-width:0.2px">ρ</text>
<text transform="translate(634.40 71.99) scale(0.622 0.823)" class="lg it" style="font-size:11.5px;stroke-width:0.7px">h</text>
<text transform="translate(639.82 69.4) scale(0.753 1)" class="lg"><tspan dy="0.7">=</tspan><tspan dy="-0.7">0.7</tspan></text>
<line x1="599" y1="93.1" x2="618" y2="93.1" stroke="#0000ff" stroke-width="1.4"/>
<text transform="translate(625.32 97.19) scale(0.833 0.936)" class="lg it" style="stroke-width:0.2px">ρ</text>
<text transform="translate(634.40 99.79) scale(0.622 0.823)" class="lg it" style="font-size:11.5px;stroke-width:0.7px">h</text>
<text transform="translate(639.82 97.2) scale(0.753 1)" class="lg"><tspan dy="0.7">=</tspan><tspan dy="-0.7">0.9</tspan></text>
<text class="cap" transform="translate(65.81 350.5) scale(1.091 1.17)">(</text>
<text class="cap" transform="translate(74.05 350.5) scale(1.269 1.0)">a</text>
<text class="cap" transform="translate(87.12 350.5) scale(1.036 1.17)">)</text>
<text class="cap" transform="translate(105.12 350.5) scale(1.048 1.0)" style="font-style:italic">ρ</text>
<text class="cap" transform="translate(116.76 354.3) scale(1.257 1.0)" style="font-style:italic;font-size:17px">h</text>
<text class="cap" transform="translate(136.35 352.6) scale(1.551 1.1)">=</text>
<text class="cap" transform="translate(161.96 350.5) scale(1.019 1.0)">1</text>
<text class="cap" transform="translate(175.06 350.5) scale(0.985 1.2)">,</text>
<text class="cap" transform="translate(188.13 350.5) scale(1.025 1.0)" style="font-style:italic">ω</text>
<text class="cap" transform="translate(210.50 352.6) scale(1.600 1.1)">=</text>
<text class="cap" transform="translate(236.17 350.5) scale(1.117 1.0)">100</text>
<text class="cap" transform="translate(409.73 350.5) scale(1.073 1.17)">(</text>
<text class="cap" transform="translate(419.10 350.5) scale(1.180 1.0)">b</text>
<text class="cap" transform="translate(432.12 350.5) scale(1.036 1.17)">)</text>
<text class="cap" transform="translate(448.50 350.5) scale(1.200 1.0)" style="font-style:italic">a</text>
<text class="cap" transform="translate(467.70 352.6) scale(1.600 1.1)">=</text>
<text class="cap" transform="translate(493.44 350.5) scale(1.147 1.0)">0</text>
<text class="cap" transform="translate(506.46 350.5) scale(0.960 1.0)">.</text>
<text class="cap" transform="translate(512.24 350.5) scale(1.157 1.0)">3</text>
<text class="cap" transform="translate(525.52 350.5) scale(1.046 1.2)">,</text>
<text class="cap" transform="translate(538.63 350.5) scale(1.025 1.0)" style="font-style:italic">ω</text>
<text class="cap" transform="translate(561.31 352.6) scale(1.590 1.1)">=</text>
<text class="cap" transform="translate(586.69 350.5) scale(1.104 1.0)">100</text>
</svg></body></html>
